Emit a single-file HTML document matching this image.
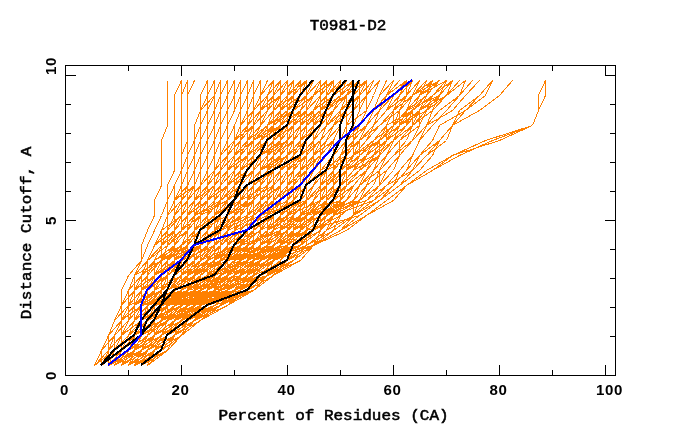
<!DOCTYPE html>
<html><head><meta charset="utf-8"><title>T0981-D2</title>
<style>
html,body{margin:0;padding:0;background:#fff;}
body{width:680px;height:440px;overflow:hidden;position:relative;font-family:"Liberation Mono",monospace;}
svg{position:absolute;left:0;top:0;}
text{font-family:"Liberation Mono",monospace;font-weight:normal;font-size:14px;fill:#000;}
text.m{stroke:#000;stroke-width:0.5px;}
text.t{font-family:"Liberation Sans",sans-serif;font-weight:bold;font-size:14.5px;letter-spacing:0.6px;}
</style></head><body>
<svg width="680" height="440" viewBox="0 0 680 440">
<rect width="680" height="440" fill="#fff"/>
<g shape-rendering="crispEdges">
<path fill="none" stroke="#ff8000" stroke-width="1" d="M101.5 365.5 L121.5 350.5 L134.5 335.5 L147.5 320.5 L154.5 305.5 L161.5 290.5 L181.5 275.5 L181.5 260.5 L187.5 245.5 L187.5 230.5 L200.5 215.5 L200.5 200.5 L207.5 185.5 L207.5 170.5 L214.5 155.5 L220.5 140.5 L227.5 125.5 L227.5 110.5 L234.5 95.5 L240.5 80.5 M101.5 365.5 L108.5 350.5 L114.5 335.5 L121.5 320.5 L128.5 305.5 L128.5 290.5 L141.5 275.5 L147.5 260.5 L161.5 245.5 L167.5 230.5 L181.5 215.5 L187.5 200.5 L194.5 185.5 L194.5 170.5 L200.5 155.5 L200.5 140.5 L207.5 125.5 L214.5 110.5 L214.5 95.5 L220.5 80.5 M128.5 365.5 L154.5 350.5 L181.5 335.5 L200.5 320.5 L227.5 305.5 L253.5 290.5 L273.5 275.5 L280.5 260.5 L287.5 245.5 L293.5 230.5 L320.5 215.5 L340.5 200.5 L346.5 185.5 L359.5 170.5 L366.5 155.5 L379.5 140.5 L393.5 125.5 L393.5 110.5 L412.5 95.5 L426.5 80.5 M121.5 365.5 L147.5 350.5 L174.5 335.5 L181.5 320.5 L187.5 305.5 L200.5 290.5 L220.5 275.5 L227.5 260.5 L240.5 245.5 L240.5 230.5 L240.5 215.5 L247.5 200.5 L253.5 185.5 L253.5 170.5 L267.5 155.5 L287.5 140.5 L300.5 125.5 L306.5 110.5 L313.5 95.5 L326.5 80.5 M147.5 365.5 L167.5 350.5 L174.5 335.5 L194.5 320.5 L220.5 305.5 L247.5 290.5 L273.5 275.5 L300.5 260.5 L313.5 245.5 L340.5 230.5 L359.5 215.5 L379.5 200.5 L393.5 185.5 L406.5 170.5 L419.5 155.5 L439.5 140.5 L452.5 125.5 L479.5 110.5 L499.5 95.5 L512.5 80.5 M108.5 365.5 L114.5 350.5 L121.5 335.5 L141.5 320.5 L147.5 305.5 L154.5 290.5 L161.5 275.5 L161.5 260.5 L200.5 245.5 L207.5 230.5 L220.5 215.5 L227.5 200.5 L234.5 185.5 L253.5 170.5 L267.5 155.5 L273.5 140.5 L273.5 125.5 L293.5 110.5 L306.5 95.5 L313.5 80.5 M108.5 365.5 L114.5 350.5 L114.5 335.5 L128.5 320.5 L141.5 305.5 L147.5 290.5 L154.5 275.5 L161.5 260.5 L167.5 245.5 L181.5 230.5 L194.5 215.5 L200.5 200.5 L207.5 185.5 L220.5 170.5 L227.5 155.5 L234.5 140.5 L240.5 125.5 L247.5 110.5 L253.5 95.5 L260.5 80.5 M134.5 365.5 L154.5 350.5 L174.5 335.5 L187.5 320.5 L200.5 305.5 L214.5 290.5 L227.5 275.5 L234.5 260.5 L240.5 245.5 L247.5 230.5 L260.5 215.5 L267.5 200.5 L267.5 185.5 L273.5 170.5 L287.5 155.5 L306.5 140.5 L313.5 125.5 L326.5 110.5 L340.5 95.5 L359.5 80.5 M134.5 365.5 L147.5 350.5 L161.5 335.5 L174.5 320.5 L194.5 305.5 L214.5 290.5 L240.5 275.5 L267.5 260.5 L280.5 245.5 L293.5 230.5 L300.5 215.5 L306.5 200.5 L320.5 185.5 L320.5 170.5 L333.5 155.5 L340.5 140.5 L346.5 125.5 L353.5 110.5 L366.5 95.5 L373.5 80.5 M114.5 365.5 L128.5 350.5 L141.5 335.5 L147.5 320.5 L161.5 305.5 L174.5 290.5 L174.5 275.5 L187.5 260.5 L200.5 245.5 L220.5 230.5 L227.5 215.5 L227.5 200.5 L234.5 185.5 L240.5 170.5 L247.5 155.5 L247.5 140.5 L253.5 125.5 L260.5 110.5 L267.5 95.5 L273.5 80.5 M128.5 365.5 L147.5 350.5 L167.5 335.5 L187.5 320.5 L200.5 305.5 L220.5 290.5 L240.5 275.5 L260.5 260.5 L280.5 245.5 L293.5 230.5 L313.5 215.5 L326.5 200.5 L333.5 185.5 L333.5 170.5 L340.5 155.5 L346.5 140.5 L353.5 125.5 L359.5 110.5 L366.5 95.5 L366.5 80.5 M128.5 365.5 L141.5 350.5 L154.5 335.5 L161.5 320.5 L181.5 305.5 L214.5 290.5 L234.5 275.5 L240.5 260.5 L253.5 245.5 L260.5 230.5 L273.5 215.5 L280.5 200.5 L293.5 185.5 L300.5 170.5 L320.5 155.5 L326.5 140.5 L333.5 125.5 L353.5 110.5 L359.5 95.5 L366.5 80.5 M114.5 365.5 L128.5 350.5 L141.5 335.5 L154.5 320.5 L167.5 305.5 L181.5 290.5 L187.5 275.5 L194.5 260.5 L207.5 245.5 L220.5 230.5 L234.5 215.5 L247.5 200.5 L253.5 185.5 L260.5 170.5 L267.5 155.5 L273.5 140.5 L280.5 125.5 L293.5 110.5 L300.5 95.5 L306.5 80.5 M114.5 365.5 L128.5 350.5 L147.5 335.5 L154.5 320.5 L181.5 305.5 L194.5 290.5 L200.5 275.5 L207.5 260.5 L214.5 245.5 L220.5 230.5 L220.5 215.5 L227.5 200.5 L234.5 185.5 L253.5 170.5 L253.5 155.5 L260.5 140.5 L267.5 125.5 L287.5 110.5 L293.5 95.5 L300.5 80.5 M128.5 365.5 L147.5 350.5 L161.5 335.5 L181.5 320.5 L194.5 305.5 L207.5 290.5 L220.5 275.5 L227.5 260.5 L227.5 245.5 L234.5 230.5 L234.5 215.5 L234.5 200.5 L234.5 185.5 L234.5 170.5 L247.5 155.5 L260.5 140.5 L280.5 125.5 L280.5 110.5 L293.5 95.5 L306.5 80.5 M147.5 365.5 L161.5 350.5 L181.5 335.5 L200.5 320.5 L220.5 305.5 L240.5 290.5 L267.5 275.5 L287.5 260.5 L306.5 245.5 L326.5 230.5 L353.5 215.5 L366.5 200.5 L379.5 185.5 L379.5 170.5 L393.5 155.5 L406.5 140.5 L412.5 125.5 L426.5 110.5 L446.5 95.5 L459.5 80.5 M114.5 365.5 L128.5 350.5 L141.5 335.5 L154.5 320.5 L167.5 305.5 L187.5 290.5 L214.5 275.5 L227.5 260.5 L227.5 245.5 L227.5 230.5 L234.5 215.5 L247.5 200.5 L247.5 185.5 L253.5 170.5 L260.5 155.5 L267.5 140.5 L273.5 125.5 L280.5 110.5 L287.5 95.5 L293.5 80.5 M108.5 365.5 L121.5 350.5 L134.5 335.5 L147.5 320.5 L147.5 305.5 L161.5 290.5 L174.5 275.5 L187.5 260.5 L200.5 245.5 L207.5 230.5 L207.5 215.5 L207.5 200.5 L207.5 185.5 L214.5 170.5 L220.5 155.5 L220.5 140.5 L227.5 125.5 L227.5 110.5 L227.5 95.5 L234.5 80.5 M114.5 365.5 L128.5 350.5 L141.5 335.5 L154.5 320.5 L174.5 305.5 L194.5 290.5 L207.5 275.5 L214.5 260.5 L214.5 245.5 L220.5 230.5 L220.5 215.5 L227.5 200.5 L227.5 185.5 L234.5 170.5 L240.5 155.5 L247.5 140.5 L253.5 125.5 L260.5 110.5 L267.5 95.5 L273.5 80.5 M94.5 365.5 L101.5 350.5 L108.5 335.5 L114.5 320.5 L121.5 305.5 L134.5 290.5 L141.5 275.5 L147.5 260.5 L154.5 245.5 L161.5 230.5 L167.5 215.5 L174.5 200.5 L194.5 185.5 L194.5 170.5 L200.5 155.5 L200.5 140.5 L207.5 125.5 L207.5 110.5 L214.5 95.5 L214.5 80.5 M114.5 365.5 L121.5 350.5 L134.5 335.5 L141.5 320.5 L154.5 305.5 L187.5 290.5 L187.5 275.5 L194.5 260.5 L200.5 245.5 L200.5 230.5 L207.5 215.5 L207.5 200.5 L207.5 185.5 L207.5 170.5 L214.5 155.5 L220.5 140.5 L220.5 125.5 L227.5 110.5 L234.5 95.5 L234.5 80.5 M121.5 365.5 L134.5 350.5 L154.5 335.5 L181.5 320.5 L200.5 305.5 L214.5 290.5 L227.5 275.5 L234.5 260.5 L240.5 245.5 L247.5 230.5 L247.5 215.5 L260.5 200.5 L267.5 185.5 L273.5 170.5 L280.5 155.5 L287.5 140.5 L293.5 125.5 L300.5 110.5 L306.5 95.5 L313.5 80.5 M128.5 365.5 L147.5 350.5 L167.5 335.5 L181.5 320.5 L200.5 305.5 L214.5 290.5 L227.5 275.5 L234.5 260.5 L240.5 245.5 L253.5 230.5 L267.5 215.5 L267.5 200.5 L273.5 185.5 L287.5 170.5 L293.5 155.5 L300.5 140.5 L306.5 125.5 L320.5 110.5 L326.5 95.5 L340.5 80.5 M121.5 365.5 L134.5 350.5 L141.5 335.5 L147.5 320.5 L154.5 305.5 L194.5 290.5 L214.5 275.5 L214.5 260.5 L220.5 245.5 L234.5 230.5 L240.5 215.5 L240.5 200.5 L253.5 185.5 L267.5 170.5 L287.5 155.5 L300.5 140.5 L306.5 125.5 L320.5 110.5 L333.5 95.5 L353.5 80.5 M101.5 365.5 L108.5 350.5 L114.5 335.5 L121.5 320.5 L134.5 305.5 L134.5 290.5 L147.5 275.5 L147.5 260.5 L167.5 245.5 L174.5 230.5 L181.5 215.5 L194.5 200.5 L207.5 185.5 L207.5 170.5 L214.5 155.5 L220.5 140.5 L227.5 125.5 L227.5 110.5 L234.5 95.5 L240.5 80.5 M128.5 365.5 L147.5 350.5 L167.5 335.5 L181.5 320.5 L194.5 305.5 L207.5 290.5 L220.5 275.5 L240.5 260.5 L260.5 245.5 L287.5 230.5 L306.5 215.5 L326.5 200.5 L340.5 185.5 L353.5 170.5 L366.5 155.5 L379.5 140.5 L386.5 125.5 L393.5 110.5 L406.5 95.5 L406.5 80.5 M114.5 365.5 L134.5 350.5 L147.5 335.5 L167.5 320.5 L194.5 305.5 L247.5 290.5 L253.5 275.5 L253.5 260.5 L267.5 245.5 L267.5 230.5 L267.5 215.5 L267.5 200.5 L267.5 185.5 L267.5 170.5 L267.5 155.5 L273.5 140.5 L273.5 125.5 L273.5 110.5 L280.5 95.5 L280.5 80.5 M101.5 365.5 L108.5 350.5 L121.5 335.5 L121.5 320.5 L121.5 305.5 L128.5 290.5 L134.5 275.5 L147.5 260.5 L154.5 245.5 L161.5 230.5 L167.5 215.5 L174.5 200.5 L187.5 185.5 L194.5 170.5 L200.5 155.5 L207.5 140.5 L214.5 125.5 L220.5 110.5 L227.5 95.5 L234.5 80.5 M108.5 365.5 L128.5 350.5 L147.5 335.5 L154.5 320.5 L174.5 305.5 L187.5 290.5 L200.5 275.5 L220.5 260.5 L240.5 245.5 L240.5 230.5 L247.5 215.5 L247.5 200.5 L247.5 185.5 L253.5 170.5 L260.5 155.5 L267.5 140.5 L280.5 125.5 L287.5 110.5 L293.5 95.5 L300.5 80.5 M101.5 365.5 L108.5 350.5 L121.5 335.5 L128.5 320.5 L134.5 305.5 L141.5 290.5 L161.5 275.5 L181.5 260.5 L194.5 245.5 L194.5 230.5 L207.5 215.5 L220.5 200.5 L227.5 185.5 L234.5 170.5 L234.5 155.5 L240.5 140.5 L240.5 125.5 L247.5 110.5 L247.5 95.5 L253.5 80.5 M121.5 365.5 L128.5 350.5 L141.5 335.5 L154.5 320.5 L154.5 305.5 L167.5 290.5 L181.5 275.5 L187.5 260.5 L187.5 245.5 L200.5 230.5 L214.5 215.5 L214.5 200.5 L227.5 185.5 L240.5 170.5 L247.5 155.5 L253.5 140.5 L260.5 125.5 L273.5 110.5 L280.5 95.5 L293.5 80.5 M134.5 365.5 L147.5 350.5 L161.5 335.5 L181.5 320.5 L200.5 305.5 L247.5 290.5 L253.5 275.5 L260.5 260.5 L267.5 245.5 L280.5 230.5 L287.5 215.5 L293.5 200.5 L306.5 185.5 L320.5 170.5 L346.5 155.5 L346.5 140.5 L366.5 125.5 L373.5 110.5 L393.5 95.5 L412.5 80.5 M114.5 365.5 L128.5 350.5 L141.5 335.5 L154.5 320.5 L181.5 305.5 L200.5 290.5 L220.5 275.5 L247.5 260.5 L260.5 245.5 L273.5 230.5 L280.5 215.5 L293.5 200.5 L300.5 185.5 L306.5 170.5 L306.5 155.5 L313.5 140.5 L320.5 125.5 L326.5 110.5 L326.5 95.5 L333.5 80.5 M114.5 365.5 L121.5 350.5 L128.5 335.5 L147.5 320.5 L167.5 305.5 L174.5 290.5 L187.5 275.5 L194.5 260.5 L194.5 245.5 L200.5 230.5 L207.5 215.5 L220.5 200.5 L227.5 185.5 L247.5 170.5 L253.5 155.5 L267.5 140.5 L273.5 125.5 L273.5 110.5 L287.5 95.5 L293.5 80.5 M114.5 365.5 L128.5 350.5 L141.5 335.5 L154.5 320.5 L167.5 305.5 L181.5 290.5 L200.5 275.5 L207.5 260.5 L214.5 245.5 L214.5 230.5 L220.5 215.5 L227.5 200.5 L234.5 185.5 L253.5 170.5 L253.5 155.5 L260.5 140.5 L280.5 125.5 L300.5 110.5 L313.5 95.5 L320.5 80.5 M121.5 365.5 L128.5 350.5 L141.5 335.5 L147.5 320.5 L154.5 305.5 L181.5 290.5 L207.5 275.5 L214.5 260.5 L227.5 245.5 L247.5 230.5 L253.5 215.5 L267.5 200.5 L273.5 185.5 L280.5 170.5 L287.5 155.5 L293.5 140.5 L300.5 125.5 L313.5 110.5 L326.5 95.5 L326.5 80.5 M128.5 365.5 L141.5 350.5 L147.5 335.5 L161.5 320.5 L181.5 305.5 L220.5 290.5 L253.5 275.5 L267.5 260.5 L280.5 245.5 L293.5 230.5 L306.5 215.5 L326.5 200.5 L333.5 185.5 L340.5 170.5 L353.5 155.5 L379.5 140.5 L393.5 125.5 L406.5 110.5 L419.5 95.5 L432.5 80.5 M134.5 365.5 L147.5 350.5 L167.5 335.5 L194.5 320.5 L214.5 305.5 L227.5 290.5 L247.5 275.5 L260.5 260.5 L280.5 245.5 L306.5 230.5 L359.5 215.5 L379.5 200.5 L399.5 185.5 L412.5 170.5 L419.5 155.5 L432.5 140.5 L439.5 125.5 L465.5 110.5 L479.5 95.5 L492.5 80.5 M101.5 365.5 L108.5 350.5 L121.5 335.5 L128.5 320.5 L134.5 305.5 L134.5 290.5 L141.5 275.5 L147.5 260.5 L167.5 245.5 L174.5 230.5 L187.5 215.5 L200.5 200.5 L214.5 185.5 L214.5 170.5 L214.5 155.5 L220.5 140.5 L220.5 125.5 L220.5 110.5 L227.5 95.5 L227.5 80.5 M121.5 365.5 L141.5 350.5 L161.5 335.5 L174.5 320.5 L194.5 305.5 L214.5 290.5 L227.5 275.5 L247.5 260.5 L280.5 245.5 L280.5 230.5 L280.5 215.5 L280.5 200.5 L280.5 185.5 L280.5 170.5 L293.5 155.5 L306.5 140.5 L320.5 125.5 L333.5 110.5 L340.5 95.5 L346.5 80.5 M128.5 365.5 L147.5 350.5 L167.5 335.5 L181.5 320.5 L200.5 305.5 L214.5 290.5 L227.5 275.5 L247.5 260.5 L260.5 245.5 L273.5 230.5 L300.5 215.5 L340.5 200.5 L340.5 185.5 L340.5 170.5 L340.5 155.5 L346.5 140.5 L353.5 125.5 L359.5 110.5 L366.5 95.5 L373.5 80.5 M108.5 365.5 L121.5 350.5 L134.5 335.5 L141.5 320.5 L154.5 305.5 L200.5 290.5 L207.5 275.5 L214.5 260.5 L220.5 245.5 L234.5 230.5 L240.5 215.5 L253.5 200.5 L267.5 185.5 L273.5 170.5 L287.5 155.5 L300.5 140.5 L300.5 125.5 L313.5 110.5 L326.5 95.5 L333.5 80.5 M121.5 365.5 L141.5 350.5 L161.5 335.5 L174.5 320.5 L194.5 305.5 L214.5 290.5 L227.5 275.5 L234.5 260.5 L247.5 245.5 L247.5 230.5 L253.5 215.5 L253.5 200.5 L260.5 185.5 L267.5 170.5 L273.5 155.5 L280.5 140.5 L287.5 125.5 L293.5 110.5 L293.5 95.5 L300.5 80.5 M108.5 365.5 L121.5 350.5 L134.5 335.5 L147.5 320.5 L167.5 305.5 L181.5 290.5 L194.5 275.5 L207.5 260.5 L207.5 245.5 L220.5 230.5 L227.5 215.5 L234.5 200.5 L240.5 185.5 L247.5 170.5 L253.5 155.5 L260.5 140.5 L267.5 125.5 L273.5 110.5 L280.5 95.5 L287.5 80.5 M128.5 365.5 L141.5 350.5 L154.5 335.5 L167.5 320.5 L187.5 305.5 L200.5 290.5 L207.5 275.5 L227.5 260.5 L227.5 245.5 L227.5 230.5 L227.5 215.5 L240.5 200.5 L253.5 185.5 L273.5 170.5 L280.5 155.5 L293.5 140.5 L300.5 125.5 L313.5 110.5 L326.5 95.5 L346.5 80.5 M108.5 365.5 L128.5 350.5 L141.5 335.5 L147.5 320.5 L161.5 305.5 L167.5 290.5 L181.5 275.5 L187.5 260.5 L200.5 245.5 L207.5 230.5 L214.5 215.5 L214.5 200.5 L214.5 185.5 L220.5 170.5 L227.5 155.5 L234.5 140.5 L240.5 125.5 L247.5 110.5 L253.5 95.5 L260.5 80.5 M101.5 365.5 L114.5 350.5 L121.5 335.5 L134.5 320.5 L141.5 305.5 L181.5 290.5 L187.5 275.5 L200.5 260.5 L220.5 245.5 L227.5 230.5 L234.5 215.5 L240.5 200.5 L240.5 185.5 L253.5 170.5 L253.5 155.5 L267.5 140.5 L273.5 125.5 L280.5 110.5 L287.5 95.5 L293.5 80.5 M101.5 365.5 L108.5 350.5 L121.5 335.5 L128.5 320.5 L141.5 305.5 L141.5 290.5 L154.5 275.5 L181.5 260.5 L214.5 245.5 L214.5 230.5 L220.5 215.5 L220.5 200.5 L227.5 185.5 L227.5 170.5 L234.5 155.5 L240.5 140.5 L240.5 125.5 L247.5 110.5 L247.5 95.5 L253.5 80.5 M134.5 365.5 L147.5 350.5 L154.5 335.5 L174.5 320.5 L200.5 305.5 L220.5 290.5 L253.5 275.5 L267.5 260.5 L280.5 245.5 L293.5 230.5 L313.5 215.5 L326.5 200.5 L346.5 185.5 L359.5 170.5 L373.5 155.5 L379.5 140.5 L399.5 125.5 L412.5 110.5 L419.5 95.5 L426.5 80.5 M128.5 365.5 L134.5 350.5 L147.5 335.5 L161.5 320.5 L174.5 305.5 L187.5 290.5 L200.5 275.5 L214.5 260.5 L227.5 245.5 L234.5 230.5 L234.5 215.5 L234.5 200.5 L240.5 185.5 L240.5 170.5 L247.5 155.5 L253.5 140.5 L260.5 125.5 L267.5 110.5 L280.5 95.5 L287.5 80.5 M108.5 365.5 L121.5 350.5 L121.5 335.5 L128.5 320.5 L134.5 305.5 L161.5 290.5 L174.5 275.5 L187.5 260.5 L194.5 245.5 L200.5 230.5 L214.5 215.5 L220.5 200.5 L227.5 185.5 L234.5 170.5 L240.5 155.5 L247.5 140.5 L247.5 125.5 L253.5 110.5 L267.5 95.5 L273.5 80.5 M108.5 365.5 L108.5 350.5 L114.5 335.5 L128.5 320.5 L141.5 305.5 L147.5 290.5 L167.5 275.5 L174.5 260.5 L187.5 245.5 L200.5 230.5 L200.5 215.5 L207.5 200.5 L214.5 185.5 L220.5 170.5 L234.5 155.5 L240.5 140.5 L247.5 125.5 L253.5 110.5 L260.5 95.5 L267.5 80.5 M128.5 365.5 L134.5 350.5 L141.5 335.5 L147.5 320.5 L154.5 305.5 L181.5 290.5 L187.5 275.5 L200.5 260.5 L200.5 245.5 L207.5 230.5 L214.5 215.5 L240.5 200.5 L253.5 185.5 L260.5 170.5 L267.5 155.5 L267.5 140.5 L273.5 125.5 L280.5 110.5 L280.5 95.5 L287.5 80.5 M114.5 365.5 L128.5 350.5 L134.5 335.5 L147.5 320.5 L161.5 305.5 L181.5 290.5 L187.5 275.5 L200.5 260.5 L214.5 245.5 L220.5 230.5 L220.5 215.5 L227.5 200.5 L227.5 185.5 L240.5 170.5 L247.5 155.5 L253.5 140.5 L260.5 125.5 L267.5 110.5 L280.5 95.5 L287.5 80.5 M128.5 365.5 L134.5 350.5 L147.5 335.5 L161.5 320.5 L207.5 305.5 L247.5 290.5 L253.5 275.5 L253.5 260.5 L260.5 245.5 L267.5 230.5 L273.5 215.5 L280.5 200.5 L280.5 185.5 L287.5 170.5 L293.5 155.5 L300.5 140.5 L306.5 125.5 L313.5 110.5 L320.5 95.5 L326.5 80.5 M128.5 365.5 L141.5 350.5 L147.5 335.5 L161.5 320.5 L174.5 305.5 L174.5 290.5 L181.5 275.5 L181.5 260.5 L200.5 245.5 L214.5 230.5 L220.5 215.5 L227.5 200.5 L234.5 185.5 L234.5 170.5 L240.5 155.5 L247.5 140.5 L253.5 125.5 L260.5 110.5 L267.5 95.5 L273.5 80.5 M108.5 365.5 L128.5 350.5 L154.5 335.5 L167.5 320.5 L181.5 305.5 L200.5 290.5 L220.5 275.5 L234.5 260.5 L247.5 245.5 L253.5 230.5 L267.5 215.5 L280.5 200.5 L287.5 185.5 L300.5 170.5 L306.5 155.5 L306.5 140.5 L320.5 125.5 L320.5 110.5 L326.5 95.5 L333.5 80.5 M134.5 365.5 L147.5 350.5 L167.5 335.5 L187.5 320.5 L207.5 305.5 L227.5 290.5 L247.5 275.5 L267.5 260.5 L287.5 245.5 L300.5 230.5 L313.5 215.5 L326.5 200.5 L340.5 185.5 L346.5 170.5 L353.5 155.5 L359.5 140.5 L366.5 125.5 L379.5 110.5 L386.5 95.5 L393.5 80.5 M101.5 365.5 L114.5 350.5 L121.5 335.5 L134.5 320.5 L141.5 305.5 L141.5 290.5 L147.5 275.5 L161.5 260.5 L181.5 245.5 L187.5 230.5 L187.5 215.5 L187.5 200.5 L187.5 185.5 L194.5 170.5 L194.5 155.5 L200.5 140.5 L200.5 125.5 L207.5 110.5 L214.5 95.5 L214.5 80.5 M114.5 365.5 L121.5 350.5 L134.5 335.5 L141.5 320.5 L147.5 305.5 L167.5 290.5 L181.5 275.5 L194.5 260.5 L207.5 245.5 L214.5 230.5 L220.5 215.5 L220.5 200.5 L227.5 185.5 L234.5 170.5 L240.5 155.5 L247.5 140.5 L260.5 125.5 L267.5 110.5 L273.5 95.5 L280.5 80.5 M134.5 365.5 L167.5 350.5 L181.5 335.5 L200.5 320.5 L220.5 305.5 L240.5 290.5 L253.5 275.5 L260.5 260.5 L273.5 245.5 L280.5 230.5 L280.5 215.5 L280.5 200.5 L280.5 185.5 L280.5 170.5 L280.5 155.5 L280.5 140.5 L280.5 125.5 L280.5 110.5 L280.5 95.5 L280.5 80.5 M147.5 365.5 L167.5 350.5 L181.5 335.5 L200.5 320.5 L220.5 305.5 L234.5 290.5 L253.5 275.5 L267.5 260.5 L306.5 245.5 L326.5 230.5 L333.5 215.5 L340.5 200.5 L340.5 185.5 L353.5 170.5 L366.5 155.5 L373.5 140.5 L386.5 125.5 L393.5 110.5 L406.5 95.5 L412.5 80.5 M101.5 365.5 L121.5 350.5 L141.5 335.5 L147.5 320.5 L154.5 305.5 L174.5 290.5 L174.5 275.5 L181.5 260.5 L187.5 245.5 L194.5 230.5 L200.5 215.5 L207.5 200.5 L214.5 185.5 L220.5 170.5 L227.5 155.5 L234.5 140.5 L234.5 125.5 L240.5 110.5 L247.5 95.5 L253.5 80.5 M94.5 365.5 L108.5 350.5 L121.5 335.5 L128.5 320.5 L134.5 305.5 L134.5 290.5 L141.5 275.5 L147.5 260.5 L161.5 245.5 L174.5 230.5 L174.5 215.5 L187.5 200.5 L194.5 185.5 L194.5 170.5 L200.5 155.5 L200.5 140.5 L200.5 125.5 L207.5 110.5 L207.5 95.5 L214.5 80.5 M94.5 365.5 L101.5 350.5 L108.5 335.5 L114.5 320.5 L121.5 305.5 L128.5 290.5 L134.5 275.5 L147.5 260.5 L161.5 245.5 L167.5 230.5 L174.5 215.5 L181.5 200.5 L187.5 185.5 L194.5 170.5 L194.5 155.5 L194.5 140.5 L200.5 125.5 L207.5 110.5 L207.5 95.5 L214.5 80.5 M141.5 365.5 L154.5 350.5 L167.5 335.5 L181.5 320.5 L207.5 305.5 L253.5 290.5 L273.5 275.5 L287.5 260.5 L300.5 245.5 L313.5 230.5 L326.5 215.5 L333.5 200.5 L333.5 185.5 L340.5 170.5 L346.5 155.5 L359.5 140.5 L366.5 125.5 L373.5 110.5 L379.5 95.5 L386.5 80.5 M108.5 365.5 L114.5 350.5 L128.5 335.5 L141.5 320.5 L147.5 305.5 L154.5 290.5 L161.5 275.5 L167.5 260.5 L187.5 245.5 L194.5 230.5 L200.5 215.5 L207.5 200.5 L214.5 185.5 L227.5 170.5 L247.5 155.5 L260.5 140.5 L267.5 125.5 L280.5 110.5 L287.5 95.5 L300.5 80.5 M128.5 365.5 L141.5 350.5 L147.5 335.5 L161.5 320.5 L174.5 305.5 L214.5 290.5 L227.5 275.5 L227.5 260.5 L240.5 245.5 L240.5 230.5 L240.5 215.5 L240.5 200.5 L240.5 185.5 L253.5 170.5 L253.5 155.5 L267.5 140.5 L287.5 125.5 L293.5 110.5 L306.5 95.5 L313.5 80.5 M121.5 365.5 L128.5 350.5 L141.5 335.5 L147.5 320.5 L161.5 305.5 L174.5 290.5 L187.5 275.5 L214.5 260.5 L234.5 245.5 L253.5 230.5 L273.5 215.5 L293.5 200.5 L306.5 185.5 L313.5 170.5 L320.5 155.5 L326.5 140.5 L333.5 125.5 L340.5 110.5 L346.5 95.5 L359.5 80.5 M114.5 365.5 L134.5 350.5 L141.5 335.5 L161.5 320.5 L174.5 305.5 L187.5 290.5 L200.5 275.5 L207.5 260.5 L214.5 245.5 L214.5 230.5 L220.5 215.5 L220.5 200.5 L220.5 185.5 L227.5 170.5 L240.5 155.5 L247.5 140.5 L253.5 125.5 L260.5 110.5 L267.5 95.5 L273.5 80.5 M121.5 365.5 L141.5 350.5 L154.5 335.5 L167.5 320.5 L181.5 305.5 L200.5 290.5 L214.5 275.5 L234.5 260.5 L253.5 245.5 L267.5 230.5 L273.5 215.5 L280.5 200.5 L293.5 185.5 L300.5 170.5 L313.5 155.5 L320.5 140.5 L326.5 125.5 L333.5 110.5 L340.5 95.5 L346.5 80.5 M108.5 365.5 L121.5 350.5 L134.5 335.5 L147.5 320.5 L167.5 305.5 L181.5 290.5 L187.5 275.5 L194.5 260.5 L194.5 245.5 L207.5 230.5 L214.5 215.5 L214.5 200.5 L227.5 185.5 L227.5 170.5 L234.5 155.5 L234.5 140.5 L240.5 125.5 L247.5 110.5 L247.5 95.5 L253.5 80.5 M101.5 365.5 L121.5 350.5 L134.5 335.5 L141.5 320.5 L147.5 305.5 L154.5 290.5 L167.5 275.5 L167.5 260.5 L174.5 245.5 L181.5 230.5 L194.5 215.5 L194.5 200.5 L194.5 185.5 L194.5 170.5 L194.5 155.5 L200.5 140.5 L207.5 125.5 L214.5 110.5 L214.5 95.5 L220.5 80.5 M108.5 365.5 L121.5 350.5 L134.5 335.5 L147.5 320.5 L154.5 305.5 L167.5 290.5 L174.5 275.5 L187.5 260.5 L194.5 245.5 L194.5 230.5 L200.5 215.5 L207.5 200.5 L214.5 185.5 L214.5 170.5 L227.5 155.5 L234.5 140.5 L247.5 125.5 L260.5 110.5 L267.5 95.5 L273.5 80.5 M94.5 365.5 L108.5 350.5 L114.5 335.5 L121.5 320.5 L128.5 305.5 L134.5 290.5 L141.5 275.5 L147.5 260.5 L161.5 245.5 L167.5 230.5 L174.5 215.5 L187.5 200.5 L200.5 185.5 L214.5 170.5 L214.5 155.5 L220.5 140.5 L220.5 125.5 L227.5 110.5 L227.5 95.5 L227.5 80.5 M134.5 365.5 L147.5 350.5 L154.5 335.5 L181.5 320.5 L187.5 305.5 L214.5 290.5 L240.5 275.5 L260.5 260.5 L273.5 245.5 L293.5 230.5 L306.5 215.5 L333.5 200.5 L353.5 185.5 L366.5 170.5 L379.5 155.5 L386.5 140.5 L406.5 125.5 L419.5 110.5 L432.5 95.5 L452.5 80.5 M108.5 365.5 L121.5 350.5 L141.5 335.5 L147.5 320.5 L181.5 305.5 L214.5 290.5 L220.5 275.5 L220.5 260.5 L220.5 245.5 L220.5 230.5 L227.5 215.5 L234.5 200.5 L247.5 185.5 L253.5 170.5 L267.5 155.5 L280.5 140.5 L293.5 125.5 L313.5 110.5 L320.5 95.5 L333.5 80.5 M108.5 365.5 L121.5 350.5 L134.5 335.5 L141.5 320.5 L147.5 305.5 L174.5 290.5 L187.5 275.5 L200.5 260.5 L207.5 245.5 L214.5 230.5 L227.5 215.5 L234.5 200.5 L240.5 185.5 L247.5 170.5 L247.5 155.5 L260.5 140.5 L273.5 125.5 L287.5 110.5 L300.5 95.5 L306.5 80.5 M108.5 365.5 L121.5 350.5 L141.5 335.5 L147.5 320.5 L161.5 305.5 L181.5 290.5 L187.5 275.5 L194.5 260.5 L207.5 245.5 L214.5 230.5 L214.5 215.5 L227.5 200.5 L234.5 185.5 L240.5 170.5 L253.5 155.5 L267.5 140.5 L287.5 125.5 L293.5 110.5 L313.5 95.5 L320.5 80.5 M114.5 365.5 L134.5 350.5 L154.5 335.5 L174.5 320.5 L194.5 305.5 L194.5 290.5 L220.5 275.5 L227.5 260.5 L234.5 245.5 L240.5 230.5 L240.5 215.5 L240.5 200.5 L240.5 185.5 L240.5 170.5 L247.5 155.5 L253.5 140.5 L253.5 125.5 L260.5 110.5 L260.5 95.5 L267.5 80.5 M108.5 365.5 L128.5 350.5 L147.5 335.5 L154.5 320.5 L154.5 305.5 L154.5 290.5 L161.5 275.5 L167.5 260.5 L187.5 245.5 L187.5 230.5 L200.5 215.5 L200.5 200.5 L207.5 185.5 L207.5 170.5 L214.5 155.5 L220.5 140.5 L227.5 125.5 L234.5 110.5 L234.5 95.5 L240.5 80.5 M128.5 365.5 L141.5 350.5 L154.5 335.5 L154.5 320.5 L174.5 305.5 L214.5 290.5 L240.5 275.5 L247.5 260.5 L260.5 245.5 L260.5 230.5 L260.5 215.5 L260.5 200.5 L260.5 185.5 L267.5 170.5 L267.5 155.5 L273.5 140.5 L280.5 125.5 L280.5 110.5 L287.5 95.5 L287.5 80.5 M121.5 365.5 L134.5 350.5 L154.5 335.5 L174.5 320.5 L187.5 305.5 L207.5 290.5 L220.5 275.5 L227.5 260.5 L234.5 245.5 L247.5 230.5 L253.5 215.5 L253.5 200.5 L260.5 185.5 L267.5 170.5 L287.5 155.5 L293.5 140.5 L293.5 125.5 L313.5 110.5 L326.5 95.5 L340.5 80.5 M121.5 365.5 L128.5 350.5 L134.5 335.5 L147.5 320.5 L147.5 305.5 L187.5 290.5 L214.5 275.5 L227.5 260.5 L240.5 245.5 L253.5 230.5 L260.5 215.5 L260.5 200.5 L273.5 185.5 L287.5 170.5 L293.5 155.5 L306.5 140.5 L313.5 125.5 L333.5 110.5 L346.5 95.5 L353.5 80.5 M141.5 365.5 L167.5 350.5 L181.5 335.5 L200.5 320.5 L220.5 305.5 L253.5 290.5 L273.5 275.5 L287.5 260.5 L306.5 245.5 L326.5 230.5 L333.5 215.5 L346.5 200.5 L353.5 185.5 L366.5 170.5 L373.5 155.5 L393.5 140.5 L399.5 125.5 L399.5 110.5 L412.5 95.5 L426.5 80.5 M101.5 365.5 L121.5 350.5 L134.5 335.5 L141.5 320.5 L147.5 305.5 L161.5 290.5 L167.5 275.5 L167.5 260.5 L174.5 245.5 L181.5 230.5 L187.5 215.5 L194.5 200.5 L200.5 185.5 L214.5 170.5 L220.5 155.5 L234.5 140.5 L240.5 125.5 L247.5 110.5 L253.5 95.5 L260.5 80.5 M134.5 365.5 L154.5 350.5 L174.5 335.5 L181.5 320.5 L194.5 305.5 L214.5 290.5 L227.5 275.5 L234.5 260.5 L267.5 245.5 L273.5 230.5 L280.5 215.5 L287.5 200.5 L287.5 185.5 L293.5 170.5 L300.5 155.5 L306.5 140.5 L313.5 125.5 L320.5 110.5 L333.5 95.5 L340.5 80.5 M114.5 365.5 L128.5 350.5 L134.5 335.5 L147.5 320.5 L147.5 305.5 L167.5 290.5 L174.5 275.5 L187.5 260.5 L200.5 245.5 L220.5 230.5 L227.5 215.5 L234.5 200.5 L240.5 185.5 L240.5 170.5 L260.5 155.5 L273.5 140.5 L287.5 125.5 L306.5 110.5 L320.5 95.5 L333.5 80.5 M101.5 365.5 L114.5 350.5 L134.5 335.5 L154.5 320.5 L167.5 305.5 L181.5 290.5 L194.5 275.5 L200.5 260.5 L214.5 245.5 L234.5 230.5 L247.5 215.5 L260.5 200.5 L260.5 185.5 L267.5 170.5 L267.5 155.5 L273.5 140.5 L273.5 125.5 L280.5 110.5 L280.5 95.5 L287.5 80.5 M134.5 365.5 L147.5 350.5 L167.5 335.5 L187.5 320.5 L200.5 305.5 L220.5 290.5 L247.5 275.5 L253.5 260.5 L280.5 245.5 L300.5 230.5 L313.5 215.5 L326.5 200.5 L340.5 185.5 L353.5 170.5 L379.5 155.5 L393.5 140.5 L399.5 125.5 L419.5 110.5 L446.5 95.5 L465.5 80.5 M94.5 365.5 L114.5 350.5 L134.5 335.5 L141.5 320.5 L141.5 305.5 L147.5 290.5 L147.5 275.5 L161.5 260.5 L181.5 245.5 L187.5 230.5 L194.5 215.5 L200.5 200.5 L207.5 185.5 L214.5 170.5 L214.5 155.5 L220.5 140.5 L220.5 125.5 L220.5 110.5 L227.5 95.5 L227.5 80.5 M134.5 365.5 L147.5 350.5 L167.5 335.5 L174.5 320.5 L194.5 305.5 L220.5 290.5 L234.5 275.5 L240.5 260.5 L240.5 245.5 L247.5 230.5 L247.5 215.5 L253.5 200.5 L260.5 185.5 L260.5 170.5 L267.5 155.5 L273.5 140.5 L280.5 125.5 L287.5 110.5 L287.5 95.5 L293.5 80.5 M147.5 365.5 L154.5 350.5 L167.5 335.5 L174.5 320.5 L181.5 305.5 L214.5 290.5 L267.5 275.5 L287.5 260.5 L300.5 245.5 L313.5 230.5 L326.5 215.5 L346.5 200.5 L359.5 185.5 L379.5 170.5 L386.5 155.5 L399.5 140.5 L412.5 125.5 L432.5 110.5 L446.5 95.5 L452.5 80.5 M128.5 365.5 L154.5 350.5 L174.5 335.5 L194.5 320.5 L200.5 305.5 L214.5 290.5 L220.5 275.5 L227.5 260.5 L234.5 245.5 L234.5 230.5 L240.5 215.5 L240.5 200.5 L247.5 185.5 L253.5 170.5 L260.5 155.5 L260.5 140.5 L267.5 125.5 L273.5 110.5 L273.5 95.5 L280.5 80.5 M114.5 365.5 L121.5 350.5 L134.5 335.5 L141.5 320.5 L141.5 305.5 L200.5 290.5 L207.5 275.5 L214.5 260.5 L220.5 245.5 L220.5 230.5 L220.5 215.5 L227.5 200.5 L234.5 185.5 L234.5 170.5 L240.5 155.5 L240.5 140.5 L247.5 125.5 L253.5 110.5 L253.5 95.5 L260.5 80.5 M114.5 365.5 L134.5 350.5 L141.5 335.5 L154.5 320.5 L181.5 305.5 L194.5 290.5 L194.5 275.5 L200.5 260.5 L207.5 245.5 L214.5 230.5 L220.5 215.5 L234.5 200.5 L240.5 185.5 L253.5 170.5 L260.5 155.5 L267.5 140.5 L267.5 125.5 L280.5 110.5 L287.5 95.5 L293.5 80.5 M121.5 365.5 L134.5 350.5 L161.5 335.5 L174.5 320.5 L194.5 305.5 L214.5 290.5 L220.5 275.5 L234.5 260.5 L240.5 245.5 L247.5 230.5 L253.5 215.5 L273.5 200.5 L287.5 185.5 L300.5 170.5 L300.5 155.5 L313.5 140.5 L320.5 125.5 L333.5 110.5 L340.5 95.5 L346.5 80.5 M114.5 365.5 L121.5 350.5 L128.5 335.5 L141.5 320.5 L147.5 305.5 L167.5 290.5 L187.5 275.5 L194.5 260.5 L200.5 245.5 L214.5 230.5 L214.5 215.5 L214.5 200.5 L220.5 185.5 L227.5 170.5 L240.5 155.5 L247.5 140.5 L253.5 125.5 L260.5 110.5 L273.5 95.5 L280.5 80.5 M114.5 365.5 L121.5 350.5 L128.5 335.5 L141.5 320.5 L147.5 305.5 L154.5 290.5 L161.5 275.5 L167.5 260.5 L174.5 245.5 L187.5 230.5 L194.5 215.5 L220.5 200.5 L234.5 185.5 L253.5 170.5 L267.5 155.5 L267.5 140.5 L273.5 125.5 L287.5 110.5 L293.5 95.5 L300.5 80.5 M121.5 365.5 L147.5 350.5 L167.5 335.5 L174.5 320.5 L181.5 305.5 L194.5 290.5 L207.5 275.5 L207.5 260.5 L214.5 245.5 L220.5 230.5 L227.5 215.5 L234.5 200.5 L234.5 185.5 L240.5 170.5 L247.5 155.5 L253.5 140.5 L267.5 125.5 L273.5 110.5 L287.5 95.5 L306.5 80.5 M121.5 365.5 L134.5 350.5 L147.5 335.5 L154.5 320.5 L161.5 305.5 L174.5 290.5 L187.5 275.5 L200.5 260.5 L234.5 245.5 L240.5 230.5 L247.5 215.5 L253.5 200.5 L253.5 185.5 L260.5 170.5 L267.5 155.5 L267.5 140.5 L273.5 125.5 L280.5 110.5 L280.5 95.5 L287.5 80.5 M108.5 365.5 L114.5 350.5 L121.5 335.5 L128.5 320.5 L134.5 305.5 L154.5 290.5 L154.5 275.5 L167.5 260.5 L187.5 245.5 L194.5 230.5 L194.5 215.5 L194.5 200.5 L207.5 185.5 L207.5 170.5 L207.5 155.5 L214.5 140.5 L214.5 125.5 L214.5 110.5 L220.5 95.5 L220.5 80.5 M101.5 365.5 L114.5 350.5 L128.5 335.5 L134.5 320.5 L147.5 305.5 L161.5 290.5 L161.5 275.5 L174.5 260.5 L181.5 245.5 L187.5 230.5 L200.5 215.5 L214.5 200.5 L220.5 185.5 L220.5 170.5 L227.5 155.5 L234.5 140.5 L240.5 125.5 L240.5 110.5 L247.5 95.5 L253.5 80.5 M114.5 365.5 L134.5 350.5 L147.5 335.5 L167.5 320.5 L187.5 305.5 L200.5 290.5 L200.5 275.5 L214.5 260.5 L214.5 245.5 L220.5 230.5 L240.5 215.5 L253.5 200.5 L267.5 185.5 L273.5 170.5 L287.5 155.5 L300.5 140.5 L320.5 125.5 L320.5 110.5 L340.5 95.5 L353.5 80.5 M128.5 365.5 L154.5 350.5 L167.5 335.5 L187.5 320.5 L214.5 305.5 L253.5 290.5 L267.5 275.5 L280.5 260.5 L287.5 245.5 L293.5 230.5 L306.5 215.5 L313.5 200.5 L326.5 185.5 L340.5 170.5 L359.5 155.5 L373.5 140.5 L393.5 125.5 L412.5 110.5 L419.5 95.5 L432.5 80.5 M121.5 365.5 L134.5 350.5 L147.5 335.5 L154.5 320.5 L174.5 305.5 L187.5 290.5 L207.5 275.5 L214.5 260.5 L220.5 245.5 L220.5 230.5 L227.5 215.5 L227.5 200.5 L227.5 185.5 L234.5 170.5 L240.5 155.5 L247.5 140.5 L260.5 125.5 L273.5 110.5 L280.5 95.5 L287.5 80.5 M114.5 365.5 L141.5 350.5 L161.5 335.5 L174.5 320.5 L194.5 305.5 L220.5 290.5 L240.5 275.5 L260.5 260.5 L280.5 245.5 L293.5 230.5 L306.5 215.5 L306.5 200.5 L313.5 185.5 L320.5 170.5 L333.5 155.5 L346.5 140.5 L346.5 125.5 L366.5 110.5 L366.5 95.5 L379.5 80.5 M134.5 365.5 L154.5 350.5 L181.5 335.5 L194.5 320.5 L220.5 305.5 L240.5 290.5 L247.5 275.5 L273.5 260.5 L287.5 245.5 L300.5 230.5 L320.5 215.5 L340.5 200.5 L346.5 185.5 L366.5 170.5 L379.5 155.5 L386.5 140.5 L406.5 125.5 L406.5 110.5 L426.5 95.5 L439.5 80.5 M128.5 365.5 L141.5 350.5 L154.5 335.5 L167.5 320.5 L207.5 305.5 L240.5 290.5 L253.5 275.5 L260.5 260.5 L267.5 245.5 L267.5 230.5 L273.5 215.5 L273.5 200.5 L280.5 185.5 L287.5 170.5 L300.5 155.5 L306.5 140.5 L313.5 125.5 L326.5 110.5 L333.5 95.5 L346.5 80.5 M101.5 365.5 L114.5 350.5 L128.5 335.5 L141.5 320.5 L154.5 305.5 L167.5 290.5 L174.5 275.5 L194.5 260.5 L200.5 245.5 L200.5 230.5 L214.5 215.5 L240.5 200.5 L240.5 185.5 L247.5 170.5 L253.5 155.5 L253.5 140.5 L260.5 125.5 L267.5 110.5 L267.5 95.5 L273.5 80.5 M101.5 365.5 L121.5 350.5 L134.5 335.5 L141.5 320.5 L147.5 305.5 L154.5 290.5 L161.5 275.5 L167.5 260.5 L181.5 245.5 L194.5 230.5 L200.5 215.5 L207.5 200.5 L207.5 185.5 L214.5 170.5 L214.5 155.5 L214.5 140.5 L220.5 125.5 L220.5 110.5 L227.5 95.5 L227.5 80.5 M128.5 365.5 L134.5 350.5 L147.5 335.5 L167.5 320.5 L194.5 305.5 L214.5 290.5 L227.5 275.5 L234.5 260.5 L234.5 245.5 L234.5 230.5 L234.5 215.5 L240.5 200.5 L253.5 185.5 L260.5 170.5 L273.5 155.5 L293.5 140.5 L306.5 125.5 L306.5 110.5 L320.5 95.5 L333.5 80.5 M114.5 365.5 L134.5 350.5 L147.5 335.5 L167.5 320.5 L181.5 305.5 L200.5 290.5 L214.5 275.5 L227.5 260.5 L234.5 245.5 L247.5 230.5 L253.5 215.5 L260.5 200.5 L273.5 185.5 L280.5 170.5 L287.5 155.5 L293.5 140.5 L300.5 125.5 L306.5 110.5 L313.5 95.5 L320.5 80.5 M128.5 365.5 L141.5 350.5 L147.5 335.5 L154.5 320.5 L174.5 305.5 L187.5 290.5 L200.5 275.5 L214.5 260.5 L227.5 245.5 L240.5 230.5 L247.5 215.5 L260.5 200.5 L280.5 185.5 L287.5 170.5 L293.5 155.5 L300.5 140.5 L306.5 125.5 L320.5 110.5 L326.5 95.5 L340.5 80.5 M101.5 365.5 L108.5 350.5 L121.5 335.5 L128.5 320.5 L141.5 305.5 L147.5 290.5 L161.5 275.5 L181.5 260.5 L194.5 245.5 L207.5 230.5 L220.5 215.5 L220.5 200.5 L227.5 185.5 L234.5 170.5 L247.5 155.5 L260.5 140.5 L280.5 125.5 L287.5 110.5 L306.5 95.5 L320.5 80.5 M114.5 365.5 L128.5 350.5 L147.5 335.5 L167.5 320.5 L181.5 305.5 L200.5 290.5 L214.5 275.5 L227.5 260.5 L240.5 245.5 L253.5 230.5 L267.5 215.5 L267.5 200.5 L267.5 185.5 L267.5 170.5 L280.5 155.5 L287.5 140.5 L300.5 125.5 L320.5 110.5 L333.5 95.5 L333.5 80.5 M114.5 365.5 L128.5 350.5 L141.5 335.5 L154.5 320.5 L181.5 305.5 L214.5 290.5 L234.5 275.5 L253.5 260.5 L273.5 245.5 L280.5 230.5 L287.5 215.5 L293.5 200.5 L300.5 185.5 L300.5 170.5 L300.5 155.5 L306.5 140.5 L313.5 125.5 L313.5 110.5 L320.5 95.5 L326.5 80.5 M141.5 365.5 L154.5 350.5 L167.5 335.5 L181.5 320.5 L200.5 305.5 L214.5 290.5 L234.5 275.5 L253.5 260.5 L267.5 245.5 L280.5 230.5 L300.5 215.5 L320.5 200.5 L333.5 185.5 L346.5 170.5 L353.5 155.5 L366.5 140.5 L373.5 125.5 L379.5 110.5 L386.5 95.5 L399.5 80.5 M141.5 365.5 L161.5 350.5 L181.5 335.5 L194.5 320.5 L227.5 305.5 L253.5 290.5 L267.5 275.5 L267.5 260.5 L280.5 245.5 L293.5 230.5 L300.5 215.5 L313.5 200.5 L326.5 185.5 L326.5 170.5 L333.5 155.5 L340.5 140.5 L346.5 125.5 L353.5 110.5 L353.5 95.5 L359.5 80.5 M134.5 365.5 L161.5 350.5 L181.5 335.5 L194.5 320.5 L214.5 305.5 L234.5 290.5 L253.5 275.5 L267.5 260.5 L273.5 245.5 L287.5 230.5 L293.5 215.5 L306.5 200.5 L320.5 185.5 L326.5 170.5 L333.5 155.5 L340.5 140.5 L346.5 125.5 L353.5 110.5 L359.5 95.5 L366.5 80.5 M108.5 365.5 L114.5 350.5 L121.5 335.5 L134.5 320.5 L141.5 305.5 L141.5 290.5 L161.5 275.5 L174.5 260.5 L181.5 245.5 L194.5 230.5 L200.5 215.5 L207.5 200.5 L214.5 185.5 L227.5 170.5 L227.5 155.5 L234.5 140.5 L240.5 125.5 L247.5 110.5 L253.5 95.5 L260.5 80.5 M114.5 365.5 L134.5 350.5 L141.5 335.5 L154.5 320.5 L161.5 305.5 L174.5 290.5 L187.5 275.5 L200.5 260.5 L214.5 245.5 L227.5 230.5 L260.5 215.5 L260.5 200.5 L267.5 185.5 L267.5 170.5 L280.5 155.5 L287.5 140.5 L300.5 125.5 L320.5 110.5 L333.5 95.5 L346.5 80.5 M94.5 365.5 L108.5 350.5 L114.5 335.5 L121.5 320.5 L128.5 305.5 L134.5 290.5 L134.5 275.5 L147.5 260.5 L161.5 245.5 L167.5 230.5 L174.5 215.5 L174.5 200.5 L181.5 185.5 L187.5 170.5 L187.5 155.5 L194.5 140.5 L194.5 125.5 L200.5 110.5 L200.5 95.5 L207.5 80.5 M121.5 365.5 L134.5 350.5 L154.5 335.5 L174.5 320.5 L181.5 305.5 L194.5 290.5 L200.5 275.5 L214.5 260.5 L234.5 245.5 L247.5 230.5 L247.5 215.5 L247.5 200.5 L253.5 185.5 L260.5 170.5 L273.5 155.5 L273.5 140.5 L287.5 125.5 L293.5 110.5 L300.5 95.5 L313.5 80.5 M128.5 365.5 L147.5 350.5 L167.5 335.5 L187.5 320.5 L207.5 305.5 L247.5 290.5 L267.5 275.5 L287.5 260.5 L300.5 245.5 L313.5 230.5 L320.5 215.5 L326.5 200.5 L333.5 185.5 L340.5 170.5 L353.5 155.5 L359.5 140.5 L373.5 125.5 L386.5 110.5 L406.5 95.5 L419.5 80.5 M108.5 365.5 L141.5 350.5 L167.5 335.5 L181.5 320.5 L194.5 305.5 L200.5 290.5 L214.5 275.5 L227.5 260.5 L247.5 245.5 L267.5 230.5 L280.5 215.5 L280.5 200.5 L287.5 185.5 L293.5 170.5 L306.5 155.5 L313.5 140.5 L320.5 125.5 L326.5 110.5 L340.5 95.5 L346.5 80.5 M128.5 365.5 L141.5 350.5 L154.5 335.5 L167.5 320.5 L181.5 305.5 L207.5 290.5 L227.5 275.5 L240.5 260.5 L273.5 245.5 L300.5 230.5 L306.5 215.5 L326.5 200.5 L346.5 185.5 L359.5 170.5 L379.5 155.5 L379.5 140.5 L399.5 125.5 L419.5 110.5 L439.5 95.5 L452.5 80.5 M134.5 365.5 L154.5 350.5 L181.5 335.5 L200.5 320.5 L220.5 305.5 L234.5 290.5 L247.5 275.5 L267.5 260.5 L280.5 245.5 L293.5 230.5 L313.5 215.5 L333.5 200.5 L346.5 185.5 L366.5 170.5 L379.5 155.5 L386.5 140.5 L406.5 125.5 L412.5 110.5 L432.5 95.5 L446.5 80.5 M128.5 365.5 L141.5 350.5 L154.5 335.5 L167.5 320.5 L181.5 305.5 L187.5 290.5 L200.5 275.5 L207.5 260.5 L214.5 245.5 L220.5 230.5 L220.5 215.5 L227.5 200.5 L247.5 185.5 L253.5 170.5 L260.5 155.5 L273.5 140.5 L287.5 125.5 L293.5 110.5 L300.5 95.5 L313.5 80.5 M108.5 365.5 L128.5 350.5 L147.5 335.5 L161.5 320.5 L174.5 305.5 L181.5 290.5 L194.5 275.5 L207.5 260.5 L240.5 245.5 L280.5 230.5 L280.5 215.5 L280.5 200.5 L280.5 185.5 L280.5 170.5 L280.5 155.5 L280.5 140.5 L280.5 125.5 L287.5 110.5 L287.5 95.5 L293.5 80.5 M108.5 365.5 L121.5 350.5 L134.5 335.5 L141.5 320.5 L154.5 305.5 L174.5 290.5 L187.5 275.5 L194.5 260.5 L207.5 245.5 L207.5 230.5 L214.5 215.5 L220.5 200.5 L220.5 185.5 L220.5 170.5 L227.5 155.5 L227.5 140.5 L227.5 125.5 L234.5 110.5 L234.5 95.5 L240.5 80.5 M128.5 365.5 L141.5 350.5 L154.5 335.5 L167.5 320.5 L187.5 305.5 L227.5 290.5 L240.5 275.5 L260.5 260.5 L260.5 245.5 L267.5 230.5 L280.5 215.5 L293.5 200.5 L306.5 185.5 L313.5 170.5 L320.5 155.5 L333.5 140.5 L340.5 125.5 L346.5 110.5 L359.5 95.5 L366.5 80.5 M134.5 365.5 L161.5 350.5 L181.5 335.5 L194.5 320.5 L214.5 305.5 L227.5 290.5 L247.5 275.5 L260.5 260.5 L280.5 245.5 L300.5 230.5 L313.5 215.5 L320.5 200.5 L333.5 185.5 L340.5 170.5 L353.5 155.5 L366.5 140.5 L373.5 125.5 L386.5 110.5 L399.5 95.5 L406.5 80.5 M114.5 365.5 L134.5 350.5 L147.5 335.5 L154.5 320.5 L154.5 305.5 L154.5 290.5 L154.5 275.5 L161.5 260.5 L161.5 245.5 L174.5 230.5 L187.5 215.5 L194.5 200.5 L214.5 185.5 L227.5 170.5 L234.5 155.5 L247.5 140.5 L253.5 125.5 L260.5 110.5 L267.5 95.5 L280.5 80.5 M108.5 365.5 L114.5 350.5 L128.5 335.5 L141.5 320.5 L154.5 305.5 L167.5 290.5 L181.5 275.5 L194.5 260.5 L194.5 245.5 L207.5 230.5 L214.5 215.5 L220.5 200.5 L220.5 185.5 L234.5 170.5 L234.5 155.5 L240.5 140.5 L247.5 125.5 L253.5 110.5 L260.5 95.5 L267.5 80.5 M141.5 365.5 L147.5 350.5 L161.5 335.5 L174.5 320.5 L194.5 305.5 L247.5 290.5 L273.5 275.5 L300.5 260.5 L313.5 245.5 L340.5 230.5 L359.5 215.5 L379.5 200.5 L399.5 185.5 L412.5 170.5 L426.5 155.5 L446.5 140.5 L452.5 125.5 L465.5 110.5 L479.5 95.5 L492.5 80.5 M128.5 365.5 L147.5 350.5 L167.5 335.5 L181.5 320.5 L214.5 305.5 L234.5 290.5 L247.5 275.5 L247.5 260.5 L253.5 245.5 L260.5 230.5 L267.5 215.5 L273.5 200.5 L273.5 185.5 L280.5 170.5 L287.5 155.5 L300.5 140.5 L306.5 125.5 L313.5 110.5 L320.5 95.5 L326.5 80.5 M134.5 365.5 L147.5 350.5 L161.5 335.5 L181.5 320.5 L194.5 305.5 L220.5 290.5 L240.5 275.5 L273.5 260.5 L273.5 245.5 L300.5 230.5 L320.5 215.5 L326.5 200.5 L333.5 185.5 L340.5 170.5 L346.5 155.5 L359.5 140.5 L366.5 125.5 L373.5 110.5 L379.5 95.5 L393.5 80.5 M101.5 365.5 L114.5 350.5 L121.5 335.5 L134.5 320.5 L141.5 305.5 L154.5 290.5 L161.5 275.5 L167.5 260.5 L181.5 245.5 L194.5 230.5 L200.5 215.5 L227.5 200.5 L234.5 185.5 L240.5 170.5 L240.5 155.5 L247.5 140.5 L253.5 125.5 L260.5 110.5 L267.5 95.5 L273.5 80.5 M147.5 365.5 L167.5 350.5 L181.5 335.5 L187.5 320.5 L207.5 305.5 L253.5 290.5 L273.5 275.5 L293.5 260.5 L306.5 245.5 L326.5 230.5 L353.5 215.5 L379.5 200.5 L399.5 185.5 L419.5 170.5 L432.5 155.5 L439.5 140.5 L452.5 125.5 L465.5 110.5 L485.5 95.5 L492.5 80.5 M141.5 365.5 L161.5 350.5 L174.5 335.5 L200.5 320.5 L227.5 305.5 L253.5 290.5 L267.5 275.5 L273.5 260.5 L280.5 245.5 L293.5 230.5 L300.5 215.5 L320.5 200.5 L320.5 185.5 L326.5 170.5 L333.5 155.5 L333.5 140.5 L340.5 125.5 L340.5 110.5 L346.5 95.5 L353.5 80.5 M108.5 365.5 L121.5 350.5 L141.5 335.5 L141.5 320.5 L167.5 305.5 L181.5 290.5 L194.5 275.5 L194.5 260.5 L200.5 245.5 L207.5 230.5 L207.5 215.5 L207.5 200.5 L214.5 185.5 L214.5 170.5 L220.5 155.5 L227.5 140.5 L227.5 125.5 L234.5 110.5 L234.5 95.5 L240.5 80.5 M114.5 365.5 L121.5 350.5 L141.5 335.5 L154.5 320.5 L167.5 305.5 L194.5 290.5 L194.5 275.5 L207.5 260.5 L234.5 245.5 L253.5 230.5 L267.5 215.5 L273.5 200.5 L287.5 185.5 L306.5 170.5 L306.5 155.5 L313.5 140.5 L326.5 125.5 L340.5 110.5 L346.5 95.5 L359.5 80.5 M101.5 365.5 L114.5 350.5 L128.5 335.5 L147.5 320.5 L154.5 305.5 L174.5 290.5 L187.5 275.5 L207.5 260.5 L214.5 245.5 L227.5 230.5 L227.5 215.5 L227.5 200.5 L234.5 185.5 L240.5 170.5 L247.5 155.5 L267.5 140.5 L273.5 125.5 L287.5 110.5 L306.5 95.5 L313.5 80.5 M101.5 365.5 L114.5 350.5 L121.5 335.5 L134.5 320.5 L141.5 305.5 L147.5 290.5 L154.5 275.5 L154.5 260.5 L161.5 245.5 L181.5 230.5 L200.5 215.5 L207.5 200.5 L227.5 185.5 L234.5 170.5 L234.5 155.5 L240.5 140.5 L240.5 125.5 L247.5 110.5 L253.5 95.5 L253.5 80.5 M101.5 365.5 L114.5 350.5 L128.5 335.5 L134.5 320.5 L147.5 305.5 L187.5 290.5 L200.5 275.5 L207.5 260.5 L214.5 245.5 L220.5 230.5 L227.5 215.5 L227.5 200.5 L227.5 185.5 L227.5 170.5 L234.5 155.5 L240.5 140.5 L247.5 125.5 L253.5 110.5 L260.5 95.5 L267.5 80.5 M121.5 365.5 L134.5 350.5 L154.5 335.5 L161.5 320.5 L181.5 305.5 L181.5 290.5 L181.5 275.5 L187.5 260.5 L207.5 245.5 L220.5 230.5 L234.5 215.5 L253.5 200.5 L260.5 185.5 L267.5 170.5 L280.5 155.5 L293.5 140.5 L306.5 125.5 L313.5 110.5 L320.5 95.5 L326.5 80.5 M121.5 365.5 L141.5 350.5 L154.5 335.5 L161.5 320.5 L167.5 305.5 L181.5 290.5 L181.5 275.5 L194.5 260.5 L200.5 245.5 L220.5 230.5 L234.5 215.5 L253.5 200.5 L260.5 185.5 L273.5 170.5 L280.5 155.5 L293.5 140.5 L300.5 125.5 L306.5 110.5 L306.5 95.5 L320.5 80.5 M101.5 365.5 L108.5 350.5 L114.5 335.5 L121.5 320.5 L134.5 305.5 L154.5 290.5 L154.5 275.5 L154.5 260.5 L161.5 245.5 L167.5 230.5 L167.5 215.5 L181.5 200.5 L187.5 185.5 L194.5 170.5 L194.5 155.5 L200.5 140.5 L207.5 125.5 L207.5 110.5 L214.5 95.5 L214.5 80.5 M134.5 365.5 L154.5 350.5 L174.5 335.5 L200.5 320.5 L227.5 305.5 L253.5 290.5 L273.5 275.5 L300.5 260.5 L313.5 245.5 L340.5 230.5 L353.5 215.5 L359.5 200.5 L379.5 185.5 L386.5 170.5 L399.5 155.5 L399.5 140.5 L419.5 125.5 L426.5 110.5 L439.5 95.5 L452.5 80.5 M101.5 365.5 L121.5 350.5 L134.5 335.5 L141.5 320.5 L147.5 305.5 L154.5 290.5 L161.5 275.5 L174.5 260.5 L181.5 245.5 L194.5 230.5 L200.5 215.5 L207.5 200.5 L220.5 185.5 L227.5 170.5 L227.5 155.5 L234.5 140.5 L240.5 125.5 L240.5 110.5 L247.5 95.5 L253.5 80.5 M108.5 365.5 L121.5 350.5 L128.5 335.5 L141.5 320.5 L147.5 305.5 L167.5 290.5 L174.5 275.5 L181.5 260.5 L194.5 245.5 L200.5 230.5 L200.5 215.5 L207.5 200.5 L220.5 185.5 L227.5 170.5 L227.5 155.5 L234.5 140.5 L240.5 125.5 L240.5 110.5 L247.5 95.5 L247.5 80.5 M101.5 365.5 L114.5 350.5 L121.5 335.5 L141.5 320.5 L147.5 305.5 L154.5 290.5 L161.5 275.5 L167.5 260.5 L181.5 245.5 L194.5 230.5 L194.5 215.5 L227.5 200.5 L240.5 185.5 L247.5 170.5 L253.5 155.5 L260.5 140.5 L267.5 125.5 L280.5 110.5 L287.5 95.5 L293.5 80.5 M101.5 365.5 L114.5 350.5 L128.5 335.5 L134.5 320.5 L141.5 305.5 L147.5 290.5 L147.5 275.5 L161.5 260.5 L174.5 245.5 L187.5 230.5 L194.5 215.5 L200.5 200.5 L207.5 185.5 L214.5 170.5 L220.5 155.5 L234.5 140.5 L240.5 125.5 L253.5 110.5 L267.5 95.5 L280.5 80.5 M121.5 365.5 L128.5 350.5 L134.5 335.5 L147.5 320.5 L154.5 305.5 L220.5 290.5 L227.5 275.5 L234.5 260.5 L247.5 245.5 L247.5 230.5 L253.5 215.5 L260.5 200.5 L267.5 185.5 L267.5 170.5 L273.5 155.5 L280.5 140.5 L287.5 125.5 L293.5 110.5 L300.5 95.5 L306.5 80.5 M108.5 365.5 L121.5 350.5 L141.5 335.5 L147.5 320.5 L154.5 305.5 L161.5 290.5 L167.5 275.5 L174.5 260.5 L200.5 245.5 L214.5 230.5 L214.5 215.5 L227.5 200.5 L227.5 185.5 L234.5 170.5 L234.5 155.5 L240.5 140.5 L247.5 125.5 L253.5 110.5 L260.5 95.5 L267.5 80.5 M108.5 365.5 L114.5 350.5 L128.5 335.5 L134.5 320.5 L141.5 305.5 L154.5 290.5 L161.5 275.5 L181.5 260.5 L194.5 245.5 L200.5 230.5 L200.5 215.5 L207.5 200.5 L214.5 185.5 L220.5 170.5 L227.5 155.5 L227.5 140.5 L234.5 125.5 L240.5 110.5 L240.5 95.5 L247.5 80.5 M128.5 365.5 L141.5 350.5 L154.5 335.5 L167.5 320.5 L187.5 305.5 L207.5 290.5 L227.5 275.5 L240.5 260.5 L260.5 245.5 L267.5 230.5 L267.5 215.5 L267.5 200.5 L267.5 185.5 L273.5 170.5 L280.5 155.5 L280.5 140.5 L287.5 125.5 L293.5 110.5 L300.5 95.5 L300.5 80.5 M101.5 365.5 L108.5 350.5 L114.5 335.5 L121.5 320.5 L128.5 305.5 L134.5 290.5 L154.5 275.5 L167.5 260.5 L181.5 245.5 L187.5 230.5 L187.5 215.5 L194.5 200.5 L200.5 185.5 L207.5 170.5 L207.5 155.5 L214.5 140.5 L214.5 125.5 L220.5 110.5 L220.5 95.5 L227.5 80.5 M108.5 365.5 L121.5 350.5 L141.5 335.5 L161.5 320.5 L167.5 305.5 L174.5 290.5 L181.5 275.5 L194.5 260.5 L214.5 245.5 L220.5 230.5 L227.5 215.5 L240.5 200.5 L247.5 185.5 L260.5 170.5 L273.5 155.5 L287.5 140.5 L300.5 125.5 L313.5 110.5 L326.5 95.5 L326.5 80.5 M121.5 365.5 L128.5 350.5 L141.5 335.5 L154.5 320.5 L174.5 305.5 L240.5 290.5 L247.5 275.5 L247.5 260.5 L253.5 245.5 L253.5 230.5 L260.5 215.5 L260.5 200.5 L267.5 185.5 L267.5 170.5 L273.5 155.5 L273.5 140.5 L273.5 125.5 L280.5 110.5 L280.5 95.5 L287.5 80.5 M108.5 365.5 L114.5 350.5 L121.5 335.5 L134.5 320.5 L141.5 305.5 L147.5 290.5 L161.5 275.5 L181.5 260.5 L214.5 245.5 L214.5 230.5 L220.5 215.5 L227.5 200.5 L227.5 185.5 L234.5 170.5 L240.5 155.5 L247.5 140.5 L260.5 125.5 L273.5 110.5 L280.5 95.5 L287.5 80.5 M134.5 365.5 L147.5 350.5 L154.5 335.5 L174.5 320.5 L181.5 305.5 L194.5 290.5 L220.5 275.5 L227.5 260.5 L247.5 245.5 L273.5 230.5 L287.5 215.5 L293.5 200.5 L300.5 185.5 L306.5 170.5 L313.5 155.5 L326.5 140.5 L333.5 125.5 L340.5 110.5 L353.5 95.5 L366.5 80.5 M141.5 365.5 L154.5 350.5 L174.5 335.5 L187.5 320.5 L220.5 305.5 L253.5 290.5 L273.5 275.5 L287.5 260.5 L300.5 245.5 L313.5 230.5 L313.5 215.5 L326.5 200.5 L333.5 185.5 L340.5 170.5 L346.5 155.5 L359.5 140.5 L366.5 125.5 L373.5 110.5 L379.5 95.5 L386.5 80.5 M108.5 365.5 L121.5 350.5 L141.5 335.5 L154.5 320.5 L161.5 305.5 L174.5 290.5 L174.5 275.5 L194.5 260.5 L207.5 245.5 L214.5 230.5 L220.5 215.5 L234.5 200.5 L240.5 185.5 L253.5 170.5 L267.5 155.5 L273.5 140.5 L293.5 125.5 L306.5 110.5 L313.5 95.5 L320.5 80.5 M134.5 365.5 L147.5 350.5 L154.5 335.5 L167.5 320.5 L181.5 305.5 L207.5 290.5 L227.5 275.5 L260.5 260.5 L293.5 245.5 L306.5 230.5 L326.5 215.5 L359.5 200.5 L373.5 185.5 L379.5 170.5 L393.5 155.5 L412.5 140.5 L419.5 125.5 L419.5 110.5 L432.5 95.5 L446.5 80.5 M128.5 365.5 L141.5 350.5 L154.5 335.5 L161.5 320.5 L174.5 305.5 L194.5 290.5 L227.5 275.5 L240.5 260.5 L247.5 245.5 L247.5 230.5 L247.5 215.5 L253.5 200.5 L253.5 185.5 L253.5 170.5 L260.5 155.5 L273.5 140.5 L280.5 125.5 L293.5 110.5 L293.5 95.5 L306.5 80.5 M101.5 365.5 L108.5 350.5 L114.5 335.5 L121.5 320.5 L134.5 305.5 L134.5 290.5 L147.5 275.5 L154.5 260.5 L161.5 245.5 L181.5 230.5 L194.5 215.5 L194.5 200.5 L207.5 185.5 L220.5 170.5 L227.5 155.5 L234.5 140.5 L253.5 125.5 L260.5 110.5 L267.5 95.5 L273.5 80.5 M108.5 365.5 L128.5 350.5 L141.5 335.5 L154.5 320.5 L161.5 305.5 L161.5 290.5 L181.5 275.5 L187.5 260.5 L207.5 245.5 L214.5 230.5 L220.5 215.5 L220.5 200.5 L227.5 185.5 L227.5 170.5 L234.5 155.5 L240.5 140.5 L247.5 125.5 L247.5 110.5 L253.5 95.5 L260.5 80.5 M101.5 365.5 L114.5 350.5 L128.5 335.5 L134.5 320.5 L147.5 305.5 L154.5 290.5 L161.5 275.5 L174.5 260.5 L181.5 245.5 L200.5 230.5 L207.5 215.5 L214.5 200.5 L220.5 185.5 L220.5 170.5 L227.5 155.5 L234.5 140.5 L240.5 125.5 L240.5 110.5 L247.5 95.5 L253.5 80.5 M108.5 365.5 L121.5 350.5 L134.5 335.5 L141.5 320.5 L147.5 305.5 L154.5 290.5 L167.5 275.5 L181.5 260.5 L194.5 245.5 L214.5 230.5 L227.5 215.5 L234.5 200.5 L234.5 185.5 L240.5 170.5 L247.5 155.5 L253.5 140.5 L260.5 125.5 L260.5 110.5 L267.5 95.5 L273.5 80.5 M121.5 365.5 L128.5 350.5 L141.5 335.5 L154.5 320.5 L167.5 305.5 L181.5 290.5 L187.5 275.5 L220.5 260.5 L240.5 245.5 L240.5 230.5 L247.5 215.5 L247.5 200.5 L247.5 185.5 L253.5 170.5 L267.5 155.5 L273.5 140.5 L287.5 125.5 L306.5 110.5 L313.5 95.5 L333.5 80.5 M128.5 365.5 L134.5 350.5 L147.5 335.5 L161.5 320.5 L174.5 305.5 L187.5 290.5 L194.5 275.5 L200.5 260.5 L207.5 245.5 L220.5 230.5 L240.5 215.5 L240.5 200.5 L240.5 185.5 L247.5 170.5 L247.5 155.5 L247.5 140.5 L253.5 125.5 L253.5 110.5 L260.5 95.5 L260.5 80.5 M121.5 365.5 L134.5 350.5 L147.5 335.5 L154.5 320.5 L161.5 305.5 L181.5 290.5 L200.5 275.5 L207.5 260.5 L214.5 245.5 L214.5 230.5 L227.5 215.5 L253.5 200.5 L260.5 185.5 L267.5 170.5 L267.5 155.5 L273.5 140.5 L273.5 125.5 L280.5 110.5 L280.5 95.5 L287.5 80.5 M128.5 365.5 L147.5 350.5 L161.5 335.5 L181.5 320.5 L207.5 305.5 L220.5 290.5 L234.5 275.5 L234.5 260.5 L240.5 245.5 L247.5 230.5 L260.5 215.5 L267.5 200.5 L280.5 185.5 L287.5 170.5 L293.5 155.5 L300.5 140.5 L313.5 125.5 L320.5 110.5 L326.5 95.5 L333.5 80.5 M134.5 365.5 L147.5 350.5 L167.5 335.5 L174.5 320.5 L200.5 305.5 L227.5 290.5 L253.5 275.5 L273.5 260.5 L293.5 245.5 L300.5 230.5 L320.5 215.5 L366.5 200.5 L386.5 185.5 L399.5 170.5 L412.5 155.5 L419.5 140.5 L432.5 125.5 L446.5 110.5 L459.5 95.5 L472.5 80.5 M121.5 365.5 L128.5 350.5 L141.5 335.5 L147.5 320.5 L154.5 305.5 L207.5 290.5 L220.5 275.5 L227.5 260.5 L234.5 245.5 L247.5 230.5 L253.5 215.5 L253.5 200.5 L253.5 185.5 L267.5 170.5 L273.5 155.5 L293.5 140.5 L293.5 125.5 L313.5 110.5 L326.5 95.5 L333.5 80.5 M101.5 365.5 L114.5 350.5 L121.5 335.5 L134.5 320.5 L141.5 305.5 L147.5 290.5 L154.5 275.5 L167.5 260.5 L174.5 245.5 L181.5 230.5 L187.5 215.5 L187.5 200.5 L194.5 185.5 L200.5 170.5 L200.5 155.5 L207.5 140.5 L214.5 125.5 L214.5 110.5 L220.5 95.5 L220.5 80.5 M108.5 365.5 L121.5 350.5 L134.5 335.5 L147.5 320.5 L154.5 305.5 L174.5 290.5 L194.5 275.5 L200.5 260.5 L207.5 245.5 L214.5 230.5 L227.5 215.5 L234.5 200.5 L234.5 185.5 L240.5 170.5 L247.5 155.5 L253.5 140.5 L267.5 125.5 L273.5 110.5 L280.5 95.5 L287.5 80.5 M108.5 365.5 L121.5 350.5 L128.5 335.5 L141.5 320.5 L141.5 305.5 L147.5 290.5 L161.5 275.5 L167.5 260.5 L174.5 245.5 L181.5 230.5 L187.5 215.5 L194.5 200.5 L194.5 185.5 L194.5 170.5 L194.5 155.5 L200.5 140.5 L207.5 125.5 L207.5 110.5 L207.5 95.5 L214.5 80.5 M141.5 365.5 L147.5 350.5 L161.5 335.5 L174.5 320.5 L181.5 305.5 L234.5 290.5 L260.5 275.5 L280.5 260.5 L293.5 245.5 L313.5 230.5 L333.5 215.5 L346.5 200.5 L359.5 185.5 L373.5 170.5 L379.5 155.5 L393.5 140.5 L399.5 125.5 L406.5 110.5 L412.5 95.5 L426.5 80.5 M108.5 365.5 L114.5 350.5 L121.5 335.5 L134.5 320.5 L141.5 305.5 L174.5 290.5 L174.5 275.5 L181.5 260.5 L181.5 245.5 L187.5 230.5 L194.5 215.5 L207.5 200.5 L214.5 185.5 L220.5 170.5 L220.5 155.5 L220.5 140.5 L227.5 125.5 L227.5 110.5 L227.5 95.5 L234.5 80.5 M134.5 365.5 L154.5 350.5 L167.5 335.5 L181.5 320.5 L194.5 305.5 L214.5 290.5 L227.5 275.5 L240.5 260.5 L253.5 245.5 L267.5 230.5 L273.5 215.5 L293.5 200.5 L293.5 185.5 L300.5 170.5 L306.5 155.5 L313.5 140.5 L320.5 125.5 L326.5 110.5 L340.5 95.5 L346.5 80.5 M108.5 365.5 L121.5 350.5 L141.5 335.5 L154.5 320.5 L161.5 305.5 L174.5 290.5 L174.5 275.5 L187.5 260.5 L200.5 245.5 L214.5 230.5 L214.5 215.5 L220.5 200.5 L220.5 185.5 L227.5 170.5 L227.5 155.5 L234.5 140.5 L240.5 125.5 L247.5 110.5 L253.5 95.5 L260.5 80.5 M134.5 365.5 L141.5 350.5 L154.5 335.5 L161.5 320.5 L174.5 305.5 L240.5 290.5 L247.5 275.5 L253.5 260.5 L267.5 245.5 L267.5 230.5 L287.5 215.5 L293.5 200.5 L306.5 185.5 L313.5 170.5 L320.5 155.5 L326.5 140.5 L333.5 125.5 L346.5 110.5 L346.5 95.5 L359.5 80.5 M121.5 365.5 L134.5 350.5 L141.5 335.5 L154.5 320.5 L161.5 305.5 L174.5 290.5 L181.5 275.5 L194.5 260.5 L194.5 245.5 L214.5 230.5 L220.5 215.5 L227.5 200.5 L234.5 185.5 L240.5 170.5 L247.5 155.5 L253.5 140.5 L267.5 125.5 L293.5 110.5 L306.5 95.5 L320.5 80.5 M101.5 365.5 L108.5 350.5 L121.5 335.5 L128.5 320.5 L134.5 305.5 L154.5 290.5 L161.5 275.5 L167.5 260.5 L181.5 245.5 L187.5 230.5 L194.5 215.5 L207.5 200.5 L207.5 185.5 L214.5 170.5 L220.5 155.5 L220.5 140.5 L227.5 125.5 L234.5 110.5 L240.5 95.5 L240.5 80.5 M114.5 365.5 L128.5 350.5 L141.5 335.5 L154.5 320.5 L167.5 305.5 L174.5 290.5 L187.5 275.5 L200.5 260.5 L207.5 245.5 L214.5 230.5 L214.5 215.5 L227.5 200.5 L234.5 185.5 L240.5 170.5 L240.5 155.5 L247.5 140.5 L253.5 125.5 L260.5 110.5 L267.5 95.5 L273.5 80.5 M134.5 365.5 L147.5 350.5 L167.5 335.5 L194.5 320.5 L227.5 305.5 L253.5 290.5 L267.5 275.5 L273.5 260.5 L287.5 245.5 L300.5 230.5 L320.5 215.5 L353.5 200.5 L366.5 185.5 L386.5 170.5 L399.5 155.5 L412.5 140.5 L426.5 125.5 L439.5 110.5 L459.5 95.5 L465.5 80.5 M141.5 365.5 L147.5 350.5 L161.5 335.5 L181.5 320.5 L194.5 305.5 L200.5 290.5 L220.5 275.5 L220.5 260.5 L247.5 245.5 L267.5 230.5 L287.5 215.5 L320.5 200.5 L340.5 185.5 L346.5 170.5 L346.5 155.5 L353.5 140.5 L359.5 125.5 L366.5 110.5 L373.5 95.5 L379.5 80.5 M114.5 365.5 L128.5 350.5 L147.5 335.5 L154.5 320.5 L161.5 305.5 L167.5 290.5 L174.5 275.5 L187.5 260.5 L194.5 245.5 L194.5 230.5 L200.5 215.5 L214.5 200.5 L227.5 185.5 L234.5 170.5 L240.5 155.5 L247.5 140.5 L260.5 125.5 L267.5 110.5 L280.5 95.5 L280.5 80.5 M128.5 365.5 L141.5 350.5 L154.5 335.5 L167.5 320.5 L194.5 305.5 L234.5 290.5 L247.5 275.5 L253.5 260.5 L260.5 245.5 L260.5 230.5 L273.5 215.5 L280.5 200.5 L293.5 185.5 L306.5 170.5 L320.5 155.5 L326.5 140.5 L333.5 125.5 L340.5 110.5 L353.5 95.5 L359.5 80.5 M128.5 365.5 L154.5 350.5 L174.5 335.5 L187.5 320.5 L200.5 305.5 L214.5 290.5 L227.5 275.5 L234.5 260.5 L287.5 245.5 L287.5 230.5 L293.5 215.5 L293.5 200.5 L293.5 185.5 L293.5 170.5 L300.5 155.5 L320.5 140.5 L333.5 125.5 L346.5 110.5 L359.5 95.5 L366.5 80.5 M128.5 365.5 L134.5 350.5 L141.5 335.5 L147.5 320.5 L154.5 305.5 L194.5 290.5 L200.5 275.5 L214.5 260.5 L227.5 245.5 L234.5 230.5 L240.5 215.5 L240.5 200.5 L247.5 185.5 L253.5 170.5 L260.5 155.5 L267.5 140.5 L273.5 125.5 L280.5 110.5 L293.5 95.5 L300.5 80.5 M108.5 365.5 L121.5 350.5 L134.5 335.5 L147.5 320.5 L161.5 305.5 L174.5 290.5 L181.5 275.5 L187.5 260.5 L187.5 245.5 L194.5 230.5 L200.5 215.5 L200.5 200.5 L214.5 185.5 L220.5 170.5 L227.5 155.5 L234.5 140.5 L247.5 125.5 L253.5 110.5 L260.5 95.5 L267.5 80.5 M121.5 365.5 L134.5 350.5 L147.5 335.5 L167.5 320.5 L187.5 305.5 L207.5 290.5 L227.5 275.5 L234.5 260.5 L260.5 245.5 L273.5 230.5 L287.5 215.5 L306.5 200.5 L320.5 185.5 L333.5 170.5 L333.5 155.5 L340.5 140.5 L346.5 125.5 L353.5 110.5 L359.5 95.5 L359.5 80.5 M128.5 365.5 L141.5 350.5 L147.5 335.5 L161.5 320.5 L187.5 305.5 L227.5 290.5 L247.5 275.5 L253.5 260.5 L267.5 245.5 L287.5 230.5 L293.5 215.5 L293.5 200.5 L300.5 185.5 L313.5 170.5 L320.5 155.5 L333.5 140.5 L340.5 125.5 L346.5 110.5 L353.5 95.5 L359.5 80.5 M94.5 365.5 L108.5 350.5 L108.5 335.5 L114.5 320.5 L128.5 305.5 L134.5 290.5 L141.5 275.5 L147.5 260.5 L154.5 245.5 L161.5 230.5 L167.5 215.5 L174.5 200.5 L181.5 185.5 L181.5 170.5 L187.5 155.5 L194.5 140.5 L200.5 125.5 L200.5 110.5 L207.5 95.5 L214.5 80.5 M121.5 365.5 L128.5 350.5 L141.5 335.5 L147.5 320.5 L167.5 305.5 L187.5 290.5 L214.5 275.5 L220.5 260.5 L240.5 245.5 L247.5 230.5 L260.5 215.5 L273.5 200.5 L287.5 185.5 L306.5 170.5 L313.5 155.5 L333.5 140.5 L340.5 125.5 L340.5 110.5 L359.5 95.5 L373.5 80.5 M128.5 365.5 L141.5 350.5 L147.5 335.5 L161.5 320.5 L181.5 305.5 L207.5 290.5 L234.5 275.5 L253.5 260.5 L260.5 245.5 L273.5 230.5 L273.5 215.5 L280.5 200.5 L287.5 185.5 L287.5 170.5 L306.5 155.5 L313.5 140.5 L326.5 125.5 L326.5 110.5 L346.5 95.5 L359.5 80.5 M128.5 365.5 L134.5 350.5 L141.5 335.5 L154.5 320.5 L161.5 305.5 L214.5 290.5 L240.5 275.5 L247.5 260.5 L260.5 245.5 L280.5 230.5 L287.5 215.5 L320.5 200.5 L326.5 185.5 L333.5 170.5 L340.5 155.5 L346.5 140.5 L359.5 125.5 L366.5 110.5 L373.5 95.5 L379.5 80.5 M114.5 365.5 L134.5 350.5 L141.5 335.5 L154.5 320.5 L167.5 305.5 L187.5 290.5 L200.5 275.5 L214.5 260.5 L220.5 245.5 L227.5 230.5 L240.5 215.5 L247.5 200.5 L247.5 185.5 L260.5 170.5 L267.5 155.5 L280.5 140.5 L287.5 125.5 L306.5 110.5 L313.5 95.5 L320.5 80.5 M108.5 365.5 L128.5 350.5 L147.5 335.5 L154.5 320.5 L161.5 305.5 L181.5 290.5 L187.5 275.5 L194.5 260.5 L200.5 245.5 L207.5 230.5 L214.5 215.5 L234.5 200.5 L247.5 185.5 L260.5 170.5 L287.5 155.5 L293.5 140.5 L306.5 125.5 L320.5 110.5 L326.5 95.5 L346.5 80.5 M101.5 365.5 L108.5 350.5 L121.5 335.5 L128.5 320.5 L134.5 305.5 L141.5 290.5 L167.5 275.5 L174.5 260.5 L174.5 245.5 L181.5 230.5 L187.5 215.5 L194.5 200.5 L200.5 185.5 L200.5 170.5 L207.5 155.5 L214.5 140.5 L214.5 125.5 L220.5 110.5 L227.5 95.5 L234.5 80.5 M101.5 365.5 L114.5 350.5 L121.5 335.5 L128.5 320.5 L134.5 305.5 L141.5 290.5 L154.5 275.5 L161.5 260.5 L167.5 245.5 L181.5 230.5 L187.5 215.5 L200.5 200.5 L207.5 185.5 L214.5 170.5 L214.5 155.5 L220.5 140.5 L220.5 125.5 L227.5 110.5 L234.5 95.5 L234.5 80.5 M114.5 365.5 L128.5 350.5 L134.5 335.5 L161.5 320.5 L194.5 305.5 L214.5 290.5 L214.5 275.5 L214.5 260.5 L220.5 245.5 L220.5 230.5 L227.5 215.5 L227.5 200.5 L234.5 185.5 L234.5 170.5 L247.5 155.5 L253.5 140.5 L260.5 125.5 L273.5 110.5 L280.5 95.5 L293.5 80.5 M114.5 365.5 L121.5 350.5 L134.5 335.5 L141.5 320.5 L154.5 305.5 L167.5 290.5 L194.5 275.5 L227.5 260.5 L240.5 245.5 L260.5 230.5 L260.5 215.5 L260.5 200.5 L273.5 185.5 L287.5 170.5 L300.5 155.5 L306.5 140.5 L313.5 125.5 L313.5 110.5 L333.5 95.5 L346.5 80.5 M114.5 365.5 L134.5 350.5 L141.5 335.5 L147.5 320.5 L161.5 305.5 L167.5 290.5 L194.5 275.5 L207.5 260.5 L220.5 245.5 L220.5 230.5 L227.5 215.5 L227.5 200.5 L227.5 185.5 L240.5 170.5 L253.5 155.5 L260.5 140.5 L273.5 125.5 L280.5 110.5 L293.5 95.5 L306.5 80.5 M108.5 365.5 L121.5 350.5 L134.5 335.5 L147.5 320.5 L181.5 305.5 L214.5 290.5 L220.5 275.5 L227.5 260.5 L227.5 245.5 L227.5 230.5 L234.5 215.5 L240.5 200.5 L240.5 185.5 L247.5 170.5 L260.5 155.5 L267.5 140.5 L280.5 125.5 L293.5 110.5 L293.5 95.5 L306.5 80.5 M128.5 365.5 L154.5 350.5 L181.5 335.5 L187.5 320.5 L207.5 305.5 L227.5 290.5 L227.5 275.5 L227.5 260.5 L287.5 245.5 L293.5 230.5 L300.5 215.5 L300.5 200.5 L306.5 185.5 L306.5 170.5 L306.5 155.5 L313.5 140.5 L313.5 125.5 L320.5 110.5 L320.5 95.5 L320.5 80.5 M108.5 365.5 L121.5 350.5 L141.5 335.5 L147.5 320.5 L154.5 305.5 L154.5 290.5 L161.5 275.5 L174.5 260.5 L187.5 245.5 L200.5 230.5 L200.5 215.5 L200.5 200.5 L207.5 185.5 L207.5 170.5 L207.5 155.5 L214.5 140.5 L220.5 125.5 L227.5 110.5 L234.5 95.5 L240.5 80.5 M108.5 365.5 L114.5 350.5 L121.5 335.5 L134.5 320.5 L154.5 305.5 L181.5 290.5 L194.5 275.5 L194.5 260.5 L207.5 245.5 L214.5 230.5 L220.5 215.5 L227.5 200.5 L234.5 185.5 L240.5 170.5 L247.5 155.5 L260.5 140.5 L267.5 125.5 L273.5 110.5 L280.5 95.5 L287.5 80.5 M128.5 365.5 L141.5 350.5 L154.5 335.5 L167.5 320.5 L200.5 305.5 L234.5 290.5 L247.5 275.5 L247.5 260.5 L253.5 245.5 L260.5 230.5 L267.5 215.5 L267.5 200.5 L267.5 185.5 L267.5 170.5 L273.5 155.5 L273.5 140.5 L273.5 125.5 L273.5 110.5 L273.5 95.5 L273.5 80.5 M141.5 365.5 L161.5 350.5 L181.5 335.5 L200.5 320.5 L227.5 305.5 L240.5 290.5 L253.5 275.5 L287.5 260.5 L300.5 245.5 L306.5 230.5 L313.5 215.5 L320.5 200.5 L320.5 185.5 L326.5 170.5 L353.5 155.5 L359.5 140.5 L379.5 125.5 L399.5 110.5 L412.5 95.5 L439.5 80.5 M108.5 365.5 L114.5 350.5 L121.5 335.5 L128.5 320.5 L134.5 305.5 L141.5 290.5 L147.5 275.5 L161.5 260.5 L174.5 245.5 L181.5 230.5 L200.5 215.5 L207.5 200.5 L214.5 185.5 L220.5 170.5 L227.5 155.5 L227.5 140.5 L234.5 125.5 L240.5 110.5 L240.5 95.5 L247.5 80.5 M141.5 365.5 L154.5 350.5 L167.5 335.5 L174.5 320.5 L187.5 305.5 L200.5 290.5 L214.5 275.5 L234.5 260.5 L247.5 245.5 L280.5 230.5 L306.5 215.5 L333.5 200.5 L353.5 185.5 L366.5 170.5 L379.5 155.5 L386.5 140.5 L393.5 125.5 L412.5 110.5 L419.5 95.5 L432.5 80.5 M108.5 365.5 L121.5 350.5 L128.5 335.5 L134.5 320.5 L147.5 305.5 L161.5 290.5 L167.5 275.5 L181.5 260.5 L194.5 245.5 L200.5 230.5 L214.5 215.5 L220.5 200.5 L220.5 185.5 L220.5 170.5 L234.5 155.5 L247.5 140.5 L253.5 125.5 L267.5 110.5 L273.5 95.5 L280.5 80.5 M108.5 365.5 L121.5 350.5 L128.5 335.5 L141.5 320.5 L147.5 305.5 L194.5 290.5 L194.5 275.5 L200.5 260.5 L200.5 245.5 L207.5 230.5 L207.5 215.5 L207.5 200.5 L214.5 185.5 L227.5 170.5 L234.5 155.5 L240.5 140.5 L247.5 125.5 L253.5 110.5 L267.5 95.5 L273.5 80.5 M147.5 365.5 L161.5 350.5 L181.5 335.5 L200.5 320.5 L227.5 305.5 L240.5 290.5 L260.5 275.5 L273.5 260.5 L313.5 245.5 L333.5 230.5 L340.5 215.5 L340.5 200.5 L340.5 185.5 L340.5 170.5 L353.5 155.5 L359.5 140.5 L373.5 125.5 L386.5 110.5 L393.5 95.5 L412.5 80.5 M134.5 365.5 L147.5 350.5 L154.5 335.5 L167.5 320.5 L181.5 305.5 L194.5 290.5 L214.5 275.5 L247.5 260.5 L267.5 245.5 L280.5 230.5 L300.5 215.5 L306.5 200.5 L320.5 185.5 L326.5 170.5 L333.5 155.5 L340.5 140.5 L340.5 125.5 L346.5 110.5 L346.5 95.5 L353.5 80.5 M94.5 365.5 L101.5 350.5 L114.5 335.5 L128.5 320.5 L141.5 305.5 L147.5 290.5 L167.5 275.5 L167.5 260.5 L181.5 245.5 L187.5 230.5 L200.5 215.5 L207.5 200.5 L214.5 185.5 L214.5 170.5 L220.5 155.5 L220.5 140.5 L227.5 125.5 L227.5 110.5 L234.5 95.5 L240.5 80.5 M141.5 365.5 L161.5 350.5 L174.5 335.5 L187.5 320.5 L220.5 305.5 L234.5 290.5 L267.5 275.5 L300.5 260.5 L313.5 245.5 L340.5 230.5 L353.5 215.5 L353.5 200.5 L359.5 185.5 L366.5 170.5 L373.5 155.5 L386.5 140.5 L399.5 125.5 L426.5 110.5 L432.5 95.5 L446.5 80.5 M121.5 365.5 L147.5 350.5 L167.5 335.5 L181.5 320.5 L194.5 305.5 L200.5 290.5 L207.5 275.5 L247.5 260.5 L273.5 245.5 L280.5 230.5 L280.5 215.5 L287.5 200.5 L293.5 185.5 L300.5 170.5 L313.5 155.5 L326.5 140.5 L333.5 125.5 L340.5 110.5 L353.5 95.5 L359.5 80.5 M108.5 365.5 L121.5 350.5 L134.5 335.5 L141.5 320.5 L154.5 305.5 L167.5 290.5 L167.5 275.5 L181.5 260.5 L187.5 245.5 L200.5 230.5 L207.5 215.5 L207.5 200.5 L214.5 185.5 L214.5 170.5 L214.5 155.5 L220.5 140.5 L227.5 125.5 L234.5 110.5 L234.5 95.5 L240.5 80.5 M108.5 365.5 L121.5 350.5 L134.5 335.5 L141.5 320.5 L154.5 305.5 L161.5 290.5 L174.5 275.5 L181.5 260.5 L194.5 245.5 L194.5 230.5 L207.5 215.5 L220.5 200.5 L234.5 185.5 L240.5 170.5 L247.5 155.5 L247.5 140.5 L260.5 125.5 L267.5 110.5 L273.5 95.5 L280.5 80.5 M141.5 365.5 L147.5 350.5 L161.5 335.5 L174.5 320.5 L207.5 305.5 L253.5 290.5 L273.5 275.5 L287.5 260.5 L300.5 245.5 L313.5 230.5 L320.5 215.5 L326.5 200.5 L333.5 185.5 L340.5 170.5 L353.5 155.5 L366.5 140.5 L379.5 125.5 L399.5 110.5 L406.5 95.5 L419.5 80.5 M147.5 365.5 L154.5 350.5 L161.5 335.5 L174.5 320.5 L181.5 305.5 L207.5 290.5 L234.5 275.5 L253.5 260.5 L300.5 245.5 L313.5 230.5 L326.5 215.5 L340.5 200.5 L346.5 185.5 L346.5 170.5 L353.5 155.5 L353.5 140.5 L359.5 125.5 L366.5 110.5 L366.5 95.5 L373.5 80.5 M121.5 365.5 L134.5 350.5 L141.5 335.5 L154.5 320.5 L161.5 305.5 L181.5 290.5 L187.5 275.5 L200.5 260.5 L207.5 245.5 L214.5 230.5 L227.5 215.5 L227.5 200.5 L234.5 185.5 L240.5 170.5 L247.5 155.5 L260.5 140.5 L267.5 125.5 L273.5 110.5 L280.5 95.5 L293.5 80.5 M141.5 365.5 L154.5 350.5 L167.5 335.5 L181.5 320.5 L207.5 305.5 L214.5 290.5 L240.5 275.5 L260.5 260.5 L273.5 245.5 L293.5 230.5 L306.5 215.5 L313.5 200.5 L320.5 185.5 L333.5 170.5 L340.5 155.5 L359.5 140.5 L366.5 125.5 L373.5 110.5 L386.5 95.5 L406.5 80.5 M108.5 365.5 L114.5 350.5 L128.5 335.5 L134.5 320.5 L147.5 305.5 L161.5 290.5 L174.5 275.5 L187.5 260.5 L187.5 245.5 L187.5 230.5 L200.5 215.5 L200.5 200.5 L207.5 185.5 L214.5 170.5 L214.5 155.5 L214.5 140.5 L220.5 125.5 L220.5 110.5 L227.5 95.5 L234.5 80.5 M134.5 365.5 L154.5 350.5 L174.5 335.5 L200.5 320.5 L220.5 305.5 L247.5 290.5 L260.5 275.5 L273.5 260.5 L287.5 245.5 L293.5 230.5 L313.5 215.5 L346.5 200.5 L359.5 185.5 L366.5 170.5 L379.5 155.5 L393.5 140.5 L412.5 125.5 L412.5 110.5 L419.5 95.5 L432.5 80.5 M141.5 365.5 L161.5 350.5 L181.5 335.5 L200.5 320.5 L227.5 305.5 L247.5 290.5 L267.5 275.5 L287.5 260.5 L300.5 245.5 L320.5 230.5 L333.5 215.5 L359.5 200.5 L373.5 185.5 L379.5 170.5 L386.5 155.5 L399.5 140.5 L412.5 125.5 L419.5 110.5 L426.5 95.5 L432.5 80.5 M101.5 365.5 L108.5 350.5 L121.5 335.5 L134.5 320.5 L134.5 305.5 L134.5 290.5 L141.5 275.5 L147.5 260.5 L161.5 245.5 L174.5 230.5 L174.5 215.5 L181.5 200.5 L194.5 185.5 L194.5 170.5 L200.5 155.5 L207.5 140.5 L214.5 125.5 L220.5 110.5 L227.5 95.5 L234.5 80.5 M141.5 365.5 L154.5 350.5 L167.5 335.5 L181.5 320.5 L187.5 305.5 L220.5 290.5 L240.5 275.5 L267.5 260.5 L293.5 245.5 L313.5 230.5 L326.5 215.5 L326.5 200.5 L340.5 185.5 L340.5 170.5 L340.5 155.5 L346.5 140.5 L346.5 125.5 L353.5 110.5 L353.5 95.5 L359.5 80.5 M121.5 365.5 L141.5 350.5 L161.5 335.5 L167.5 320.5 L174.5 305.5 L181.5 290.5 L194.5 275.5 L200.5 260.5 L214.5 245.5 L220.5 230.5 L220.5 215.5 L234.5 200.5 L240.5 185.5 L240.5 170.5 L247.5 155.5 L247.5 140.5 L253.5 125.5 L253.5 110.5 L260.5 95.5 L267.5 80.5 M101.5 365.5 L114.5 350.5 L128.5 335.5 L141.5 320.5 L147.5 305.5 L167.5 290.5 L174.5 275.5 L181.5 260.5 L187.5 245.5 L194.5 230.5 L200.5 215.5 L207.5 200.5 L207.5 185.5 L214.5 170.5 L220.5 155.5 L220.5 140.5 L227.5 125.5 L234.5 110.5 L234.5 95.5 L240.5 80.5 M121.5 365.5 L134.5 350.5 L141.5 335.5 L161.5 320.5 L181.5 305.5 L207.5 290.5 L220.5 275.5 L240.5 260.5 L273.5 245.5 L293.5 230.5 L320.5 215.5 L346.5 200.5 L353.5 185.5 L366.5 170.5 L379.5 155.5 L393.5 140.5 L406.5 125.5 L412.5 110.5 L426.5 95.5 L432.5 80.5 M94.5 365.5 L101.5 350.5 L108.5 335.5 L114.5 320.5 L121.5 305.5 L134.5 290.5 L141.5 275.5 L154.5 260.5 L174.5 245.5 L174.5 230.5 L174.5 215.5 L174.5 200.5 L181.5 185.5 L181.5 170.5 L187.5 155.5 L194.5 140.5 L194.5 125.5 L200.5 110.5 L200.5 95.5 L207.5 80.5 M128.5 365.5 L147.5 350.5 L174.5 335.5 L187.5 320.5 L194.5 305.5 L207.5 290.5 L227.5 275.5 L240.5 260.5 L253.5 245.5 L267.5 230.5 L273.5 215.5 L293.5 200.5 L300.5 185.5 L306.5 170.5 L313.5 155.5 L313.5 140.5 L320.5 125.5 L326.5 110.5 L333.5 95.5 L340.5 80.5 M101.5 365.5 L114.5 350.5 L121.5 335.5 L134.5 320.5 L141.5 305.5 L141.5 290.5 L154.5 275.5 L154.5 260.5 L161.5 245.5 L174.5 230.5 L187.5 215.5 L207.5 200.5 L214.5 185.5 L214.5 170.5 L214.5 155.5 L214.5 140.5 L220.5 125.5 L220.5 110.5 L227.5 95.5 L227.5 80.5 M108.5 365.5 L121.5 350.5 L134.5 335.5 L147.5 320.5 L167.5 305.5 L194.5 290.5 L207.5 275.5 L220.5 260.5 L240.5 245.5 L247.5 230.5 L260.5 215.5 L267.5 200.5 L273.5 185.5 L273.5 170.5 L280.5 155.5 L280.5 140.5 L287.5 125.5 L287.5 110.5 L293.5 95.5 L293.5 80.5 M121.5 365.5 L147.5 350.5 L161.5 335.5 L181.5 320.5 L187.5 305.5 L200.5 290.5 L207.5 275.5 L207.5 260.5 L214.5 245.5 L214.5 230.5 L247.5 215.5 L267.5 200.5 L267.5 185.5 L273.5 170.5 L280.5 155.5 L287.5 140.5 L293.5 125.5 L300.5 110.5 L306.5 95.5 L320.5 80.5 M128.5 365.5 L141.5 350.5 L154.5 335.5 L174.5 320.5 L194.5 305.5 L207.5 290.5 L220.5 275.5 L227.5 260.5 L234.5 245.5 L247.5 230.5 L253.5 215.5 L260.5 200.5 L260.5 185.5 L267.5 170.5 L280.5 155.5 L287.5 140.5 L293.5 125.5 L300.5 110.5 L313.5 95.5 L320.5 80.5 M121.5 365.5 L134.5 350.5 L147.5 335.5 L167.5 320.5 L181.5 305.5 L194.5 290.5 L214.5 275.5 L214.5 260.5 L227.5 245.5 L227.5 230.5 L234.5 215.5 L234.5 200.5 L240.5 185.5 L240.5 170.5 L247.5 155.5 L253.5 140.5 L260.5 125.5 L267.5 110.5 L273.5 95.5 L280.5 80.5 M128.5 365.5 L147.5 350.5 L161.5 335.5 L174.5 320.5 L181.5 305.5 L200.5 290.5 L220.5 275.5 L253.5 260.5 L253.5 245.5 L267.5 230.5 L293.5 215.5 L306.5 200.5 L326.5 185.5 L340.5 170.5 L353.5 155.5 L359.5 140.5 L366.5 125.5 L373.5 110.5 L386.5 95.5 L399.5 80.5 M114.5 365.5 L128.5 350.5 L134.5 335.5 L141.5 320.5 L154.5 305.5 L161.5 290.5 L167.5 275.5 L181.5 260.5 L187.5 245.5 L200.5 230.5 L214.5 215.5 L227.5 200.5 L227.5 185.5 L234.5 170.5 L234.5 155.5 L240.5 140.5 L240.5 125.5 L247.5 110.5 L247.5 95.5 L253.5 80.5 M94.5 365.5 L108.5 350.5 L121.5 335.5 L128.5 320.5 L134.5 305.5 L134.5 290.5 L147.5 275.5 L161.5 260.5 L181.5 245.5 L187.5 230.5 L194.5 215.5 L200.5 200.5 L200.5 185.5 L207.5 170.5 L207.5 155.5 L214.5 140.5 L214.5 125.5 L214.5 110.5 L220.5 95.5 L220.5 80.5 M108.5 365.5 L141.5 350.5 L161.5 335.5 L167.5 320.5 L181.5 305.5 L187.5 290.5 L194.5 275.5 L200.5 260.5 L214.5 245.5 L227.5 230.5 L227.5 215.5 L227.5 200.5 L227.5 185.5 L234.5 170.5 L240.5 155.5 L253.5 140.5 L260.5 125.5 L273.5 110.5 L287.5 95.5 L306.5 80.5 M101.5 365.5 L108.5 350.5 L121.5 335.5 L128.5 320.5 L134.5 305.5 L141.5 290.5 L147.5 275.5 L161.5 260.5 L167.5 245.5 L167.5 230.5 L181.5 215.5 L194.5 200.5 L194.5 185.5 L200.5 170.5 L200.5 155.5 L207.5 140.5 L207.5 125.5 L207.5 110.5 L214.5 95.5 L214.5 80.5 M108.5 365.5 L121.5 350.5 L128.5 335.5 L141.5 320.5 L141.5 305.5 L154.5 290.5 L167.5 275.5 L181.5 260.5 L194.5 245.5 L207.5 230.5 L220.5 215.5 L234.5 200.5 L240.5 185.5 L253.5 170.5 L253.5 155.5 L260.5 140.5 L267.5 125.5 L280.5 110.5 L287.5 95.5 L293.5 80.5 M108.5 365.5 L121.5 350.5 L141.5 335.5 L147.5 320.5 L154.5 305.5 L167.5 290.5 L174.5 275.5 L174.5 260.5 L174.5 245.5 L181.5 230.5 L187.5 215.5 L200.5 200.5 L207.5 185.5 L214.5 170.5 L214.5 155.5 L220.5 140.5 L220.5 125.5 L227.5 110.5 L227.5 95.5 L227.5 80.5 M134.5 365.5 L147.5 350.5 L154.5 335.5 L167.5 320.5 L174.5 305.5 L253.5 290.5 L267.5 275.5 L287.5 260.5 L293.5 245.5 L293.5 230.5 L313.5 215.5 L326.5 200.5 L340.5 185.5 L359.5 170.5 L373.5 155.5 L393.5 140.5 L399.5 125.5 L406.5 110.5 L419.5 95.5 L439.5 80.5 M114.5 365.5 L128.5 350.5 L147.5 335.5 L161.5 320.5 L167.5 305.5 L181.5 290.5 L194.5 275.5 L194.5 260.5 L200.5 245.5 L207.5 230.5 L220.5 215.5 L227.5 200.5 L240.5 185.5 L247.5 170.5 L260.5 155.5 L280.5 140.5 L293.5 125.5 L300.5 110.5 L306.5 95.5 L320.5 80.5 M121.5 365.5 L134.5 350.5 L147.5 335.5 L161.5 320.5 L167.5 305.5 L227.5 290.5 L234.5 275.5 L247.5 260.5 L260.5 245.5 L267.5 230.5 L267.5 215.5 L267.5 200.5 L273.5 185.5 L280.5 170.5 L287.5 155.5 L287.5 140.5 L293.5 125.5 L293.5 110.5 L300.5 95.5 L306.5 80.5 M134.5 365.5 L154.5 350.5 L174.5 335.5 L187.5 320.5 L207.5 305.5 L234.5 290.5 L247.5 275.5 L260.5 260.5 L273.5 245.5 L293.5 230.5 L313.5 215.5 L320.5 200.5 L320.5 185.5 L333.5 170.5 L346.5 155.5 L359.5 140.5 L379.5 125.5 L393.5 110.5 L406.5 95.5 L419.5 80.5 M114.5 365.5 L121.5 350.5 L141.5 335.5 L154.5 320.5 L167.5 305.5 L187.5 290.5 L214.5 275.5 L220.5 260.5 L234.5 245.5 L253.5 230.5 L273.5 215.5 L280.5 200.5 L280.5 185.5 L287.5 170.5 L293.5 155.5 L300.5 140.5 L306.5 125.5 L313.5 110.5 L320.5 95.5 L326.5 80.5 M108.5 365.5 L121.5 350.5 L128.5 335.5 L134.5 320.5 L141.5 305.5 L147.5 290.5 L154.5 275.5 L167.5 260.5 L181.5 245.5 L194.5 230.5 L200.5 215.5 L207.5 200.5 L214.5 185.5 L220.5 170.5 L227.5 155.5 L234.5 140.5 L240.5 125.5 L240.5 110.5 L247.5 95.5 L253.5 80.5 M114.5 365.5 L134.5 350.5 L161.5 335.5 L181.5 320.5 L200.5 305.5 L214.5 290.5 L227.5 275.5 L234.5 260.5 L240.5 245.5 L247.5 230.5 L260.5 215.5 L273.5 200.5 L293.5 185.5 L300.5 170.5 L300.5 155.5 L306.5 140.5 L306.5 125.5 L313.5 110.5 L320.5 95.5 L320.5 80.5 M121.5 365.5 L141.5 350.5 L154.5 335.5 L174.5 320.5 L187.5 305.5 L200.5 290.5 L220.5 275.5 L240.5 260.5 L253.5 245.5 L260.5 230.5 L267.5 215.5 L267.5 200.5 L267.5 185.5 L273.5 170.5 L287.5 155.5 L293.5 140.5 L306.5 125.5 L326.5 110.5 L333.5 95.5 L353.5 80.5 M141.5 365.5 L147.5 350.5 L161.5 335.5 L174.5 320.5 L194.5 305.5 L220.5 290.5 L253.5 275.5 L273.5 260.5 L293.5 245.5 L306.5 230.5 L306.5 215.5 L313.5 200.5 L320.5 185.5 L326.5 170.5 L333.5 155.5 L340.5 140.5 L340.5 125.5 L346.5 110.5 L353.5 95.5 L359.5 80.5 M141.5 365.5 L161.5 350.5 L181.5 335.5 L200.5 320.5 L220.5 305.5 L227.5 290.5 L240.5 275.5 L253.5 260.5 L267.5 245.5 L280.5 230.5 L287.5 215.5 L293.5 200.5 L300.5 185.5 L306.5 170.5 L313.5 155.5 L320.5 140.5 L326.5 125.5 L326.5 110.5 L333.5 95.5 L340.5 80.5 M114.5 365.5 L134.5 350.5 L147.5 335.5 L167.5 320.5 L181.5 305.5 L200.5 290.5 L214.5 275.5 L214.5 260.5 L220.5 245.5 L220.5 230.5 L253.5 215.5 L273.5 200.5 L280.5 185.5 L287.5 170.5 L293.5 155.5 L300.5 140.5 L313.5 125.5 L320.5 110.5 L326.5 95.5 L333.5 80.5 M134.5 365.5 L147.5 350.5 L167.5 335.5 L174.5 320.5 L181.5 305.5 L200.5 290.5 L214.5 275.5 L220.5 260.5 L227.5 245.5 L247.5 230.5 L260.5 215.5 L273.5 200.5 L280.5 185.5 L287.5 170.5 L287.5 155.5 L293.5 140.5 L300.5 125.5 L300.5 110.5 L306.5 95.5 L313.5 80.5 M141.5 365.5 L161.5 350.5 L181.5 335.5 L200.5 320.5 L220.5 305.5 L240.5 290.5 L260.5 275.5 L293.5 260.5 L313.5 245.5 L326.5 230.5 L333.5 215.5 L333.5 200.5 L340.5 185.5 L340.5 170.5 L346.5 155.5 L346.5 140.5 L353.5 125.5 L359.5 110.5 L359.5 95.5 L366.5 80.5 M128.5 365.5 L154.5 350.5 L181.5 335.5 L194.5 320.5 L200.5 305.5 L220.5 290.5 L234.5 275.5 L260.5 260.5 L287.5 245.5 L287.5 230.5 L287.5 215.5 L287.5 200.5 L287.5 185.5 L287.5 170.5 L293.5 155.5 L306.5 140.5 L313.5 125.5 L313.5 110.5 L320.5 95.5 L326.5 80.5 M101.5 365.5 L114.5 350.5 L121.5 335.5 L134.5 320.5 L141.5 305.5 L154.5 290.5 L154.5 275.5 L161.5 260.5 L181.5 245.5 L200.5 230.5 L200.5 215.5 L207.5 200.5 L207.5 185.5 L214.5 170.5 L214.5 155.5 L214.5 140.5 L220.5 125.5 L220.5 110.5 L227.5 95.5 L227.5 80.5 M128.5 365.5 L141.5 350.5 L147.5 335.5 L161.5 320.5 L174.5 305.5 L181.5 290.5 L194.5 275.5 L200.5 260.5 L207.5 245.5 L214.5 230.5 L220.5 215.5 L220.5 200.5 L220.5 185.5 L227.5 170.5 L234.5 155.5 L240.5 140.5 L247.5 125.5 L260.5 110.5 L267.5 95.5 L273.5 80.5 M101.5 365.5 L108.5 350.5 L114.5 335.5 L121.5 320.5 L128.5 305.5 L141.5 290.5 L141.5 275.5 L161.5 260.5 L174.5 245.5 L181.5 230.5 L181.5 215.5 L187.5 200.5 L194.5 185.5 L200.5 170.5 L200.5 155.5 L207.5 140.5 L214.5 125.5 L220.5 110.5 L227.5 95.5 L227.5 80.5 M108.5 365.5 L121.5 350.5 L134.5 335.5 L141.5 320.5 L154.5 305.5 L181.5 290.5 L194.5 275.5 L220.5 260.5 L273.5 245.5 L280.5 230.5 L280.5 215.5 L280.5 200.5 L293.5 185.5 L300.5 170.5 L306.5 155.5 L313.5 140.5 L320.5 125.5 L333.5 110.5 L340.5 95.5 L346.5 80.5 M121.5 365.5 L147.5 350.5 L167.5 335.5 L181.5 320.5 L200.5 305.5 L207.5 290.5 L214.5 275.5 L214.5 260.5 L214.5 245.5 L214.5 230.5 L220.5 215.5 L220.5 200.5 L234.5 185.5 L234.5 170.5 L234.5 155.5 L247.5 140.5 L253.5 125.5 L260.5 110.5 L273.5 95.5 L287.5 80.5 M121.5 365.5 L141.5 350.5 L161.5 335.5 L174.5 320.5 L187.5 305.5 L220.5 290.5 L240.5 275.5 L253.5 260.5 L260.5 245.5 L280.5 230.5 L300.5 215.5 L320.5 200.5 L333.5 185.5 L346.5 170.5 L353.5 155.5 L373.5 140.5 L386.5 125.5 L393.5 110.5 L412.5 95.5 L419.5 80.5 M108.5 365.5 L114.5 350.5 L121.5 335.5 L128.5 320.5 L141.5 305.5 L154.5 290.5 L167.5 275.5 L181.5 260.5 L200.5 245.5 L200.5 230.5 L207.5 215.5 L214.5 200.5 L214.5 185.5 L220.5 170.5 L220.5 155.5 L227.5 140.5 L234.5 125.5 L240.5 110.5 L247.5 95.5 L253.5 80.5 M121.5 365.5 L147.5 350.5 L174.5 335.5 L181.5 320.5 L187.5 305.5 L194.5 290.5 L207.5 275.5 L220.5 260.5 L227.5 245.5 L234.5 230.5 L240.5 215.5 L240.5 200.5 L247.5 185.5 L253.5 170.5 L260.5 155.5 L267.5 140.5 L273.5 125.5 L280.5 110.5 L287.5 95.5 L293.5 80.5 M141.5 365.5 L154.5 350.5 L181.5 335.5 L200.5 320.5 L220.5 305.5 L247.5 290.5 L267.5 275.5 L267.5 260.5 L300.5 245.5 L306.5 230.5 L326.5 215.5 L326.5 200.5 L340.5 185.5 L346.5 170.5 L366.5 155.5 L386.5 140.5 L386.5 125.5 L412.5 110.5 L419.5 95.5 L446.5 80.5 M114.5 365.5 L134.5 350.5 L154.5 335.5 L167.5 320.5 L194.5 305.5 L200.5 290.5 L220.5 275.5 L234.5 260.5 L234.5 245.5 L234.5 230.5 L234.5 215.5 L234.5 200.5 L240.5 185.5 L240.5 170.5 L247.5 155.5 L253.5 140.5 L253.5 125.5 L260.5 110.5 L267.5 95.5 L273.5 80.5 M114.5 365.5 L128.5 350.5 L141.5 335.5 L147.5 320.5 L161.5 305.5 L161.5 290.5 L167.5 275.5 L181.5 260.5 L187.5 245.5 L194.5 230.5 L214.5 215.5 L220.5 200.5 L220.5 185.5 L227.5 170.5 L227.5 155.5 L234.5 140.5 L240.5 125.5 L240.5 110.5 L247.5 95.5 L247.5 80.5 M141.5 365.5 L167.5 350.5 L181.5 335.5 L194.5 320.5 L220.5 305.5 L240.5 290.5 L253.5 275.5 L287.5 260.5 L300.5 245.5 L320.5 230.5 L333.5 215.5 L373.5 200.5 L393.5 185.5 L399.5 170.5 L412.5 155.5 L419.5 140.5 L426.5 125.5 L432.5 110.5 L446.5 95.5 L452.5 80.5 M121.5 365.5 L134.5 350.5 L147.5 335.5 L161.5 320.5 L174.5 305.5 L181.5 290.5 L181.5 275.5 L187.5 260.5 L187.5 245.5 L194.5 230.5 L214.5 215.5 L227.5 200.5 L234.5 185.5 L240.5 170.5 L247.5 155.5 L253.5 140.5 L253.5 125.5 L260.5 110.5 L267.5 95.5 L273.5 80.5 M101.5 365.5 L114.5 350.5 L134.5 335.5 L161.5 320.5 L181.5 305.5 L207.5 290.5 L214.5 275.5 L227.5 260.5 L247.5 245.5 L247.5 230.5 L260.5 215.5 L273.5 200.5 L287.5 185.5 L300.5 170.5 L313.5 155.5 L320.5 140.5 L326.5 125.5 L340.5 110.5 L353.5 95.5 L359.5 80.5 M101.5 365.5 L108.5 350.5 L121.5 335.5 L121.5 320.5 L128.5 305.5 L134.5 290.5 L141.5 275.5 L147.5 260.5 L167.5 245.5 L187.5 230.5 L194.5 215.5 L200.5 200.5 L207.5 185.5 L214.5 170.5 L214.5 155.5 L220.5 140.5 L220.5 125.5 L227.5 110.5 L227.5 95.5 L227.5 80.5 M128.5 365.5 L134.5 350.5 L141.5 335.5 L147.5 320.5 L161.5 305.5 L200.5 290.5 L214.5 275.5 L214.5 260.5 L220.5 245.5 L220.5 230.5 L220.5 215.5 L234.5 200.5 L240.5 185.5 L253.5 170.5 L260.5 155.5 L287.5 140.5 L300.5 125.5 L313.5 110.5 L326.5 95.5 L346.5 80.5 M121.5 365.5 L128.5 350.5 L141.5 335.5 L141.5 320.5 L141.5 305.5 L200.5 290.5 L207.5 275.5 L214.5 260.5 L214.5 245.5 L220.5 230.5 L234.5 215.5 L240.5 200.5 L267.5 185.5 L280.5 170.5 L300.5 155.5 L313.5 140.5 L326.5 125.5 L340.5 110.5 L346.5 95.5 L366.5 80.5 M134.5 365.5 L154.5 350.5 L174.5 335.5 L194.5 320.5 L207.5 305.5 L220.5 290.5 L234.5 275.5 L253.5 260.5 L267.5 245.5 L273.5 230.5 L287.5 215.5 L287.5 200.5 L287.5 185.5 L293.5 170.5 L293.5 155.5 L293.5 140.5 L300.5 125.5 L306.5 110.5 L306.5 95.5 L306.5 80.5 M101.5 365.5 L114.5 350.5 L134.5 335.5 L147.5 320.5 L167.5 305.5 L181.5 290.5 L207.5 275.5 L227.5 260.5 L234.5 245.5 L260.5 230.5 L273.5 215.5 L293.5 200.5 L300.5 185.5 L300.5 170.5 L306.5 155.5 L313.5 140.5 L320.5 125.5 L326.5 110.5 L333.5 95.5 L340.5 80.5 M141.5 365.5 L147.5 350.5 L167.5 335.5 L181.5 320.5 L220.5 305.5 L253.5 290.5 L273.5 275.5 L287.5 260.5 L293.5 245.5 L306.5 230.5 L313.5 215.5 L326.5 200.5 L333.5 185.5 L340.5 170.5 L346.5 155.5 L353.5 140.5 L353.5 125.5 L359.5 110.5 L366.5 95.5 L366.5 80.5 M121.5 365.5 L128.5 350.5 L141.5 335.5 L147.5 320.5 L161.5 305.5 L187.5 290.5 L240.5 275.5 L260.5 260.5 L280.5 245.5 L287.5 230.5 L300.5 215.5 L300.5 200.5 L306.5 185.5 L313.5 170.5 L326.5 155.5 L333.5 140.5 L340.5 125.5 L346.5 110.5 L359.5 95.5 L366.5 80.5 M121.5 365.5 L134.5 350.5 L147.5 335.5 L154.5 320.5 L154.5 305.5 L167.5 290.5 L174.5 275.5 L181.5 260.5 L194.5 245.5 L200.5 230.5 L227.5 215.5 L247.5 200.5 L253.5 185.5 L267.5 170.5 L273.5 155.5 L273.5 140.5 L287.5 125.5 L293.5 110.5 L300.5 95.5 L313.5 80.5 M114.5 365.5 L121.5 350.5 L128.5 335.5 L134.5 320.5 L147.5 305.5 L174.5 290.5 L194.5 275.5 L194.5 260.5 L200.5 245.5 L207.5 230.5 L214.5 215.5 L214.5 200.5 L227.5 185.5 L227.5 170.5 L247.5 155.5 L253.5 140.5 L260.5 125.5 L273.5 110.5 L280.5 95.5 L293.5 80.5 M128.5 365.5 L141.5 350.5 L161.5 335.5 L174.5 320.5 L181.5 305.5 L194.5 290.5 L200.5 275.5 L220.5 260.5 L247.5 245.5 L253.5 230.5 L253.5 215.5 L253.5 200.5 L260.5 185.5 L267.5 170.5 L273.5 155.5 L280.5 140.5 L293.5 125.5 L300.5 110.5 L306.5 95.5 L313.5 80.5 M128.5 365.5 L147.5 350.5 L161.5 335.5 L174.5 320.5 L207.5 305.5 L234.5 290.5 L247.5 275.5 L267.5 260.5 L293.5 245.5 L313.5 230.5 L340.5 215.5 L359.5 200.5 L366.5 185.5 L373.5 170.5 L379.5 155.5 L393.5 140.5 L399.5 125.5 L406.5 110.5 L412.5 95.5 L419.5 80.5 M101.5 365.5 L114.5 350.5 L128.5 335.5 L134.5 320.5 L141.5 305.5 L147.5 290.5 L154.5 275.5 L174.5 260.5 L187.5 245.5 L194.5 230.5 L200.5 215.5 L207.5 200.5 L214.5 185.5 L227.5 170.5 L234.5 155.5 L234.5 140.5 L253.5 125.5 L267.5 110.5 L273.5 95.5 L280.5 80.5 M134.5 365.5 L147.5 350.5 L161.5 335.5 L167.5 320.5 L181.5 305.5 L200.5 290.5 L220.5 275.5 L247.5 260.5 L267.5 245.5 L280.5 230.5 L280.5 215.5 L293.5 200.5 L306.5 185.5 L313.5 170.5 L320.5 155.5 L320.5 140.5 L326.5 125.5 L326.5 110.5 L333.5 95.5 L340.5 80.5 M128.5 365.5 L141.5 350.5 L154.5 335.5 L174.5 320.5 L194.5 305.5 L220.5 290.5 L234.5 275.5 L247.5 260.5 L247.5 245.5 L267.5 230.5 L273.5 215.5 L287.5 200.5 L293.5 185.5 L300.5 170.5 L300.5 155.5 L306.5 140.5 L306.5 125.5 L306.5 110.5 L306.5 95.5 L306.5 80.5 M128.5 365.5 L147.5 350.5 L167.5 335.5 L181.5 320.5 L194.5 305.5 L207.5 290.5 L214.5 275.5 L234.5 260.5 L260.5 245.5 L273.5 230.5 L287.5 215.5 L306.5 200.5 L320.5 185.5 L333.5 170.5 L340.5 155.5 L346.5 140.5 L353.5 125.5 L359.5 110.5 L366.5 95.5 L373.5 80.5 M121.5 365.5 L134.5 350.5 L134.5 335.5 L141.5 320.5 L154.5 305.5 L181.5 290.5 L194.5 275.5 L207.5 260.5 L207.5 245.5 L220.5 230.5 L227.5 215.5 L240.5 200.5 L247.5 185.5 L253.5 170.5 L267.5 155.5 L273.5 140.5 L280.5 125.5 L287.5 110.5 L300.5 95.5 L306.5 80.5 M128.5 365.5 L141.5 350.5 L147.5 335.5 L161.5 320.5 L161.5 305.5 L227.5 290.5 L234.5 275.5 L253.5 260.5 L267.5 245.5 L273.5 230.5 L287.5 215.5 L306.5 200.5 L326.5 185.5 L346.5 170.5 L359.5 155.5 L379.5 140.5 L393.5 125.5 L406.5 110.5 L439.5 95.5 L446.5 80.5 M128.5 365.5 L134.5 350.5 L141.5 335.5 L154.5 320.5 L161.5 305.5 L167.5 290.5 L187.5 275.5 L214.5 260.5 L240.5 245.5 L247.5 230.5 L247.5 215.5 L247.5 200.5 L247.5 185.5 L253.5 170.5 L260.5 155.5 L280.5 140.5 L287.5 125.5 L293.5 110.5 L306.5 95.5 L313.5 80.5 M141.5 365.5 L161.5 350.5 L181.5 335.5 L194.5 320.5 L214.5 305.5 L227.5 290.5 L247.5 275.5 L260.5 260.5 L300.5 245.5 L306.5 230.5 L306.5 215.5 L306.5 200.5 L306.5 185.5 L313.5 170.5 L320.5 155.5 L326.5 140.5 L340.5 125.5 L346.5 110.5 L353.5 95.5 L366.5 80.5 M134.5 365.5 L147.5 350.5 L154.5 335.5 L174.5 320.5 L187.5 305.5 L214.5 290.5 L240.5 275.5 L267.5 260.5 L293.5 245.5 L320.5 230.5 L326.5 215.5 L353.5 200.5 L366.5 185.5 L373.5 170.5 L386.5 155.5 L399.5 140.5 L412.5 125.5 L419.5 110.5 L426.5 95.5 L439.5 80.5 M108.5 365.5 L114.5 350.5 L121.5 335.5 L128.5 320.5 L134.5 305.5 L147.5 290.5 L161.5 275.5 L174.5 260.5 L187.5 245.5 L200.5 230.5 L207.5 215.5 L214.5 200.5 L220.5 185.5 L234.5 170.5 L240.5 155.5 L253.5 140.5 L260.5 125.5 L267.5 110.5 L280.5 95.5 L287.5 80.5 M128.5 365.5 L134.5 350.5 L147.5 335.5 L161.5 320.5 L167.5 305.5 L194.5 290.5 L227.5 275.5 L240.5 260.5 L253.5 245.5 L260.5 230.5 L267.5 215.5 L273.5 200.5 L287.5 185.5 L287.5 170.5 L293.5 155.5 L300.5 140.5 L306.5 125.5 L313.5 110.5 L320.5 95.5 L326.5 80.5 M108.5 365.5 L121.5 350.5 L128.5 335.5 L141.5 320.5 L161.5 305.5 L174.5 290.5 L187.5 275.5 L194.5 260.5 L194.5 245.5 L214.5 230.5 L227.5 215.5 L247.5 200.5 L253.5 185.5 L260.5 170.5 L273.5 155.5 L280.5 140.5 L287.5 125.5 L293.5 110.5 L306.5 95.5 L306.5 80.5 M114.5 365.5 L128.5 350.5 L154.5 335.5 L167.5 320.5 L200.5 305.5 L220.5 290.5 L220.5 275.5 L234.5 260.5 L247.5 245.5 L253.5 230.5 L260.5 215.5 L273.5 200.5 L273.5 185.5 L287.5 170.5 L300.5 155.5 L306.5 140.5 L313.5 125.5 L320.5 110.5 L333.5 95.5 L340.5 80.5 M114.5 365.5 L121.5 350.5 L134.5 335.5 L141.5 320.5 L147.5 305.5 L154.5 290.5 L181.5 275.5 L207.5 260.5 L220.5 245.5 L234.5 230.5 L240.5 215.5 L247.5 200.5 L260.5 185.5 L267.5 170.5 L273.5 155.5 L280.5 140.5 L293.5 125.5 L306.5 110.5 L313.5 95.5 L326.5 80.5 M101.5 365.5 L108.5 350.5 L114.5 335.5 L121.5 320.5 L134.5 305.5 L134.5 290.5 L141.5 275.5 L161.5 260.5 L167.5 245.5 L174.5 230.5 L174.5 215.5 L187.5 200.5 L187.5 185.5 L187.5 170.5 L194.5 155.5 L194.5 140.5 L200.5 125.5 L200.5 110.5 L207.5 95.5 L214.5 80.5 M128.5 365.5 L141.5 350.5 L154.5 335.5 L174.5 320.5 L181.5 305.5 L200.5 290.5 L214.5 275.5 L227.5 260.5 L227.5 245.5 L227.5 230.5 L227.5 215.5 L234.5 200.5 L234.5 185.5 L247.5 170.5 L253.5 155.5 L260.5 140.5 L273.5 125.5 L280.5 110.5 L287.5 95.5 L300.5 80.5 M94.5 365.5 L101.5 350.5 L108.5 335.5 L114.5 320.5 L121.5 305.5 L128.5 290.5 L134.5 275.5 L161.5 260.5 L187.5 245.5 L187.5 230.5 L187.5 215.5 L187.5 200.5 L187.5 185.5 L187.5 170.5 L194.5 155.5 L194.5 140.5 L200.5 125.5 L207.5 110.5 L214.5 95.5 L220.5 80.5 M141.5 365.5 L147.5 350.5 L154.5 335.5 L167.5 320.5 L181.5 305.5 L214.5 290.5 L240.5 275.5 L247.5 260.5 L260.5 245.5 L267.5 230.5 L267.5 215.5 L267.5 200.5 L267.5 185.5 L273.5 170.5 L280.5 155.5 L293.5 140.5 L300.5 125.5 L313.5 110.5 L320.5 95.5 L333.5 80.5 M128.5 365.5 L147.5 350.5 L154.5 335.5 L167.5 320.5 L181.5 305.5 L207.5 290.5 L220.5 275.5 L227.5 260.5 L234.5 245.5 L240.5 230.5 L240.5 215.5 L247.5 200.5 L253.5 185.5 L260.5 170.5 L267.5 155.5 L273.5 140.5 L280.5 125.5 L287.5 110.5 L293.5 95.5 L300.5 80.5 M128.5 365.5 L134.5 350.5 L147.5 335.5 L154.5 320.5 L167.5 305.5 L181.5 290.5 L207.5 275.5 L207.5 260.5 L207.5 245.5 L207.5 230.5 L214.5 215.5 L214.5 200.5 L227.5 185.5 L234.5 170.5 L240.5 155.5 L247.5 140.5 L253.5 125.5 L260.5 110.5 L267.5 95.5 L273.5 80.5 M134.5 365.5 L154.5 350.5 L174.5 335.5 L187.5 320.5 L200.5 305.5 L207.5 290.5 L207.5 275.5 L214.5 260.5 L214.5 245.5 L214.5 230.5 L227.5 215.5 L234.5 200.5 L240.5 185.5 L240.5 170.5 L240.5 155.5 L247.5 140.5 L253.5 125.5 L253.5 110.5 L260.5 95.5 L260.5 80.5 M101.5 365.5 L114.5 350.5 L128.5 335.5 L141.5 320.5 L147.5 305.5 L154.5 290.5 L161.5 275.5 L174.5 260.5 L187.5 245.5 L200.5 230.5 L214.5 215.5 L220.5 200.5 L227.5 185.5 L240.5 170.5 L240.5 155.5 L247.5 140.5 L267.5 125.5 L273.5 110.5 L280.5 95.5 L293.5 80.5 M134.5 365.5 L147.5 350.5 L167.5 335.5 L194.5 320.5 L227.5 305.5 L247.5 290.5 L267.5 275.5 L267.5 260.5 L280.5 245.5 L293.5 230.5 L306.5 215.5 L320.5 200.5 L333.5 185.5 L346.5 170.5 L373.5 155.5 L386.5 140.5 L399.5 125.5 L412.5 110.5 L426.5 95.5 L439.5 80.5 M108.5 365.5 L121.5 350.5 L141.5 335.5 L147.5 320.5 L161.5 305.5 L167.5 290.5 L167.5 275.5 L187.5 260.5 L194.5 245.5 L194.5 230.5 L214.5 215.5 L220.5 200.5 L240.5 185.5 L253.5 170.5 L260.5 155.5 L267.5 140.5 L287.5 125.5 L287.5 110.5 L300.5 95.5 L313.5 80.5 M114.5 365.5 L128.5 350.5 L134.5 335.5 L141.5 320.5 L154.5 305.5 L174.5 290.5 L207.5 275.5 L227.5 260.5 L253.5 245.5 L253.5 230.5 L260.5 215.5 L267.5 200.5 L273.5 185.5 L287.5 170.5 L293.5 155.5 L300.5 140.5 L306.5 125.5 L313.5 110.5 L320.5 95.5 L326.5 80.5 M141.5 365.5 L161.5 350.5 L181.5 335.5 L200.5 320.5 L214.5 305.5 L227.5 290.5 L240.5 275.5 L267.5 260.5 L287.5 245.5 L306.5 230.5 L306.5 215.5 L313.5 200.5 L320.5 185.5 L333.5 170.5 L340.5 155.5 L346.5 140.5 L353.5 125.5 L359.5 110.5 L366.5 95.5 L373.5 80.5 M141.5 365.5 L154.5 350.5 L167.5 335.5 L181.5 320.5 L194.5 305.5 L220.5 290.5 L260.5 275.5 L287.5 260.5 L306.5 245.5 L333.5 230.5 L353.5 215.5 L373.5 200.5 L386.5 185.5 L412.5 170.5 L426.5 155.5 L439.5 140.5 L452.5 125.5 L459.5 110.5 L479.5 95.5 L492.5 80.5 M121.5 365.5 L141.5 350.5 L161.5 335.5 L167.5 320.5 L174.5 305.5 L194.5 290.5 L214.5 275.5 L234.5 260.5 L260.5 245.5 L267.5 230.5 L273.5 215.5 L287.5 200.5 L293.5 185.5 L293.5 170.5 L300.5 155.5 L300.5 140.5 L300.5 125.5 L306.5 110.5 L306.5 95.5 L313.5 80.5 M134.5 365.5 L147.5 350.5 L174.5 335.5 L200.5 320.5 L227.5 305.5 L247.5 290.5 L253.5 275.5 L253.5 260.5 L253.5 245.5 L260.5 230.5 L260.5 215.5 L306.5 200.5 L326.5 185.5 L346.5 170.5 L366.5 155.5 L373.5 140.5 L386.5 125.5 L393.5 110.5 L399.5 95.5 L412.5 80.5 M121.5 365.5 L134.5 350.5 L161.5 335.5 L167.5 320.5 L174.5 305.5 L181.5 290.5 L187.5 275.5 L200.5 260.5 L207.5 245.5 L214.5 230.5 L220.5 215.5 L220.5 200.5 L234.5 185.5 L240.5 170.5 L247.5 155.5 L253.5 140.5 L273.5 125.5 L280.5 110.5 L300.5 95.5 L300.5 80.5 M134.5 365.5 L161.5 350.5 L181.5 335.5 L194.5 320.5 L200.5 305.5 L220.5 290.5 L240.5 275.5 L253.5 260.5 L313.5 245.5 L333.5 230.5 L353.5 215.5 L359.5 200.5 L366.5 185.5 L373.5 170.5 L379.5 155.5 L386.5 140.5 L393.5 125.5 L399.5 110.5 L406.5 95.5 L412.5 80.5 M114.5 365.5 L128.5 350.5 L141.5 335.5 L154.5 320.5 L174.5 305.5 L207.5 290.5 L207.5 275.5 L207.5 260.5 L214.5 245.5 L220.5 230.5 L220.5 215.5 L227.5 200.5 L234.5 185.5 L240.5 170.5 L247.5 155.5 L260.5 140.5 L267.5 125.5 L280.5 110.5 L293.5 95.5 L306.5 80.5 M121.5 365.5 L141.5 350.5 L161.5 335.5 L181.5 320.5 L207.5 305.5 L220.5 290.5 L234.5 275.5 L253.5 260.5 L267.5 245.5 L267.5 230.5 L273.5 215.5 L273.5 200.5 L273.5 185.5 L287.5 170.5 L300.5 155.5 L306.5 140.5 L320.5 125.5 L320.5 110.5 L333.5 95.5 L346.5 80.5 M108.5 365.5 L134.5 350.5 L147.5 335.5 L161.5 320.5 L167.5 305.5 L181.5 290.5 L187.5 275.5 L207.5 260.5 L207.5 245.5 L214.5 230.5 L227.5 215.5 L234.5 200.5 L240.5 185.5 L253.5 170.5 L260.5 155.5 L267.5 140.5 L273.5 125.5 L280.5 110.5 L293.5 95.5 L293.5 80.5 M101.5 365.5 L101.5 350.5 L108.5 335.5 L114.5 320.5 L121.5 305.5 L128.5 290.5 L141.5 275.5 L147.5 260.5 L154.5 245.5 L174.5 230.5 L181.5 215.5 L187.5 200.5 L194.5 185.5 L194.5 170.5 L194.5 155.5 L200.5 140.5 L200.5 125.5 L207.5 110.5 L207.5 95.5 L214.5 80.5 M128.5 365.5 L154.5 350.5 L181.5 335.5 L200.5 320.5 L227.5 305.5 L247.5 290.5 L253.5 275.5 L260.5 260.5 L267.5 245.5 L273.5 230.5 L273.5 215.5 L273.5 200.5 L273.5 185.5 L280.5 170.5 L280.5 155.5 L280.5 140.5 L287.5 125.5 L287.5 110.5 L287.5 95.5 L293.5 80.5 M101.5 365.5 L108.5 350.5 L114.5 335.5 L128.5 320.5 L128.5 305.5 L134.5 290.5 L147.5 275.5 L161.5 260.5 L174.5 245.5 L181.5 230.5 L194.5 215.5 L200.5 200.5 L207.5 185.5 L220.5 170.5 L227.5 155.5 L234.5 140.5 L240.5 125.5 L253.5 110.5 L260.5 95.5 L267.5 80.5 M94.5 365.5 L108.5 350.5 L121.5 335.5 L134.5 320.5 L147.5 305.5 L154.5 290.5 L167.5 275.5 L181.5 260.5 L187.5 245.5 L194.5 230.5 L200.5 215.5 L207.5 200.5 L214.5 185.5 L220.5 170.5 L220.5 155.5 L220.5 140.5 L227.5 125.5 L227.5 110.5 L234.5 95.5 L234.5 80.5 M128.5 365.5 L134.5 350.5 L147.5 335.5 L154.5 320.5 L167.5 305.5 L181.5 290.5 L200.5 275.5 L220.5 260.5 L227.5 245.5 L240.5 230.5 L240.5 215.5 L240.5 200.5 L247.5 185.5 L260.5 170.5 L260.5 155.5 L273.5 140.5 L287.5 125.5 L300.5 110.5 L313.5 95.5 L326.5 80.5 M147.5 365.5 L161.5 350.5 L181.5 335.5 L187.5 320.5 L200.5 305.5 L207.5 290.5 L220.5 275.5 L234.5 260.5 L240.5 245.5 L260.5 230.5 L287.5 215.5 L300.5 200.5 L313.5 185.5 L320.5 170.5 L320.5 155.5 L326.5 140.5 L333.5 125.5 L346.5 110.5 L353.5 95.5 L359.5 80.5 M108.5 365.5 L114.5 350.5 L121.5 335.5 L128.5 320.5 L134.5 305.5 L147.5 290.5 L154.5 275.5 L161.5 260.5 L187.5 245.5 L194.5 230.5 L207.5 215.5 L207.5 200.5 L214.5 185.5 L220.5 170.5 L220.5 155.5 L227.5 140.5 L234.5 125.5 L240.5 110.5 L240.5 95.5 L247.5 80.5 M134.5 365.5 L147.5 350.5 L167.5 335.5 L187.5 320.5 L220.5 305.5 L240.5 290.5 L260.5 275.5 L280.5 260.5 L293.5 245.5 L306.5 230.5 L306.5 215.5 L359.5 200.5 L379.5 185.5 L393.5 170.5 L399.5 155.5 L412.5 140.5 L426.5 125.5 L452.5 110.5 L465.5 95.5 L479.5 80.5 M128.5 365.5 L141.5 350.5 L147.5 335.5 L161.5 320.5 L187.5 305.5 L247.5 290.5 L267.5 275.5 L280.5 260.5 L287.5 245.5 L306.5 230.5 L313.5 215.5 L326.5 200.5 L340.5 185.5 L353.5 170.5 L359.5 155.5 L379.5 140.5 L399.5 125.5 L406.5 110.5 L426.5 95.5 L439.5 80.5 M108.5 365.5 L114.5 350.5 L128.5 335.5 L141.5 320.5 L147.5 305.5 L147.5 290.5 L154.5 275.5 L161.5 260.5 L174.5 245.5 L187.5 230.5 L194.5 215.5 L207.5 200.5 L214.5 185.5 L220.5 170.5 L234.5 155.5 L253.5 140.5 L260.5 125.5 L273.5 110.5 L287.5 95.5 L300.5 80.5 M128.5 365.5 L141.5 350.5 L147.5 335.5 L161.5 320.5 L174.5 305.5 L234.5 290.5 L253.5 275.5 L267.5 260.5 L287.5 245.5 L300.5 230.5 L300.5 215.5 L300.5 200.5 L300.5 185.5 L306.5 170.5 L313.5 155.5 L320.5 140.5 L326.5 125.5 L333.5 110.5 L346.5 95.5 L353.5 80.5 M128.5 365.5 L134.5 350.5 L147.5 335.5 L167.5 320.5 L194.5 305.5 L234.5 290.5 L247.5 275.5 L253.5 260.5 L273.5 245.5 L280.5 230.5 L293.5 215.5 L300.5 200.5 L313.5 185.5 L326.5 170.5 L333.5 155.5 L340.5 140.5 L346.5 125.5 L353.5 110.5 L359.5 95.5 L366.5 80.5 M134.5 365.5 L141.5 350.5 L147.5 335.5 L167.5 320.5 L174.5 305.5 L181.5 290.5 L207.5 275.5 L220.5 260.5 L300.5 245.5 L306.5 230.5 L306.5 215.5 L313.5 200.5 L320.5 185.5 L326.5 170.5 L333.5 155.5 L340.5 140.5 L346.5 125.5 L353.5 110.5 L366.5 95.5 L373.5 80.5 M128.5 365.5 L134.5 350.5 L141.5 335.5 L147.5 320.5 L161.5 305.5 L187.5 290.5 L214.5 275.5 L214.5 260.5 L227.5 245.5 L240.5 230.5 L253.5 215.5 L260.5 200.5 L260.5 185.5 L267.5 170.5 L267.5 155.5 L273.5 140.5 L280.5 125.5 L287.5 110.5 L287.5 95.5 L293.5 80.5 M134.5 365.5 L154.5 350.5 L181.5 335.5 L194.5 320.5 L220.5 305.5 L247.5 290.5 L273.5 275.5 L287.5 260.5 L313.5 245.5 L320.5 230.5 L320.5 215.5 L326.5 200.5 L326.5 185.5 L333.5 170.5 L333.5 155.5 L340.5 140.5 L346.5 125.5 L346.5 110.5 L353.5 95.5 L359.5 80.5 M108.5 365.5 L114.5 350.5 L121.5 335.5 L134.5 320.5 L147.5 305.5 L154.5 290.5 L161.5 275.5 L174.5 260.5 L187.5 245.5 L200.5 230.5 L214.5 215.5 L227.5 200.5 L234.5 185.5 L240.5 170.5 L247.5 155.5 L253.5 140.5 L260.5 125.5 L273.5 110.5 L280.5 95.5 L287.5 80.5 M134.5 365.5 L147.5 350.5 L167.5 335.5 L187.5 320.5 L200.5 305.5 L227.5 290.5 L240.5 275.5 L260.5 260.5 L273.5 245.5 L293.5 230.5 L293.5 215.5 L293.5 200.5 L293.5 185.5 L306.5 170.5 L313.5 155.5 L320.5 140.5 L333.5 125.5 L346.5 110.5 L353.5 95.5 L359.5 80.5 M114.5 365.5 L121.5 350.5 L128.5 335.5 L134.5 320.5 L141.5 305.5 L161.5 290.5 L167.5 275.5 L174.5 260.5 L181.5 245.5 L187.5 230.5 L194.5 215.5 L200.5 200.5 L207.5 185.5 L214.5 170.5 L220.5 155.5 L227.5 140.5 L234.5 125.5 L240.5 110.5 L247.5 95.5 L247.5 80.5 M101.5 365.5 L114.5 350.5 L121.5 335.5 L134.5 320.5 L147.5 305.5 L147.5 290.5 L161.5 275.5 L167.5 260.5 L187.5 245.5 L194.5 230.5 L194.5 215.5 L194.5 200.5 L200.5 185.5 L200.5 170.5 L207.5 155.5 L214.5 140.5 L220.5 125.5 L227.5 110.5 L234.5 95.5 L240.5 80.5 M128.5 365.5 L141.5 350.5 L147.5 335.5 L161.5 320.5 L174.5 305.5 L220.5 290.5 L253.5 275.5 L287.5 260.5 L306.5 245.5 L306.5 230.5 L313.5 215.5 L313.5 200.5 L320.5 185.5 L326.5 170.5 L340.5 155.5 L353.5 140.5 L366.5 125.5 L379.5 110.5 L393.5 95.5 L406.5 80.5 M121.5 365.5 L134.5 350.5 L147.5 335.5 L161.5 320.5 L167.5 305.5 L194.5 290.5 L214.5 275.5 L234.5 260.5 L240.5 245.5 L247.5 230.5 L247.5 215.5 L247.5 200.5 L247.5 185.5 L260.5 170.5 L280.5 155.5 L287.5 140.5 L293.5 125.5 L306.5 110.5 L313.5 95.5 L333.5 80.5 M94.5 365.5 L101.5 350.5 L108.5 335.5 L121.5 320.5 L128.5 305.5 L134.5 290.5 L141.5 275.5 L147.5 260.5 L154.5 245.5 L161.5 230.5 L167.5 215.5 L174.5 200.5 L181.5 185.5 L187.5 170.5 L194.5 155.5 L200.5 140.5 L207.5 125.5 L214.5 110.5 L220.5 95.5 L227.5 80.5 M141.5 365.5 L167.5 350.5 L181.5 335.5 L200.5 320.5 L227.5 305.5 L253.5 290.5 L273.5 275.5 L300.5 260.5 L313.5 245.5 L340.5 230.5 L359.5 215.5 L379.5 200.5 L393.5 185.5 L406.5 170.5 L412.5 155.5 L419.5 140.5 L426.5 125.5 L432.5 110.5 L439.5 95.5 L446.5 80.5 M128.5 365.5 L141.5 350.5 L161.5 335.5 L187.5 320.5 L200.5 305.5 L214.5 290.5 L220.5 275.5 L234.5 260.5 L247.5 245.5 L253.5 230.5 L260.5 215.5 L287.5 200.5 L300.5 185.5 L306.5 170.5 L313.5 155.5 L320.5 140.5 L326.5 125.5 L333.5 110.5 L340.5 95.5 L346.5 80.5 M121.5 365.5 L134.5 350.5 L154.5 335.5 L174.5 320.5 L200.5 305.5 L234.5 290.5 L253.5 275.5 L267.5 260.5 L293.5 245.5 L293.5 230.5 L293.5 215.5 L293.5 200.5 L293.5 185.5 L300.5 170.5 L306.5 155.5 L320.5 140.5 L326.5 125.5 L333.5 110.5 L340.5 95.5 L346.5 80.5 M108.5 365.5 L128.5 350.5 L141.5 335.5 L167.5 320.5 L181.5 305.5 L200.5 290.5 L214.5 275.5 L214.5 260.5 L220.5 245.5 L220.5 230.5 L220.5 215.5 L227.5 200.5 L234.5 185.5 L240.5 170.5 L247.5 155.5 L253.5 140.5 L260.5 125.5 L273.5 110.5 L280.5 95.5 L287.5 80.5 M101.5 365.5 L114.5 350.5 L134.5 335.5 L141.5 320.5 L147.5 305.5 L154.5 290.5 L161.5 275.5 L174.5 260.5 L194.5 245.5 L214.5 230.5 L227.5 215.5 L234.5 200.5 L240.5 185.5 L240.5 170.5 L247.5 155.5 L253.5 140.5 L253.5 125.5 L260.5 110.5 L267.5 95.5 L273.5 80.5 M128.5 365.5 L154.5 350.5 L174.5 335.5 L187.5 320.5 L200.5 305.5 L214.5 290.5 L220.5 275.5 L240.5 260.5 L253.5 245.5 L260.5 230.5 L267.5 215.5 L273.5 200.5 L293.5 185.5 L306.5 170.5 L306.5 155.5 L320.5 140.5 L326.5 125.5 L346.5 110.5 L353.5 95.5 L359.5 80.5 M101.5 365.5 L114.5 350.5 L121.5 335.5 L134.5 320.5 L147.5 305.5 L167.5 290.5 L187.5 275.5 L187.5 260.5 L194.5 245.5 L200.5 230.5 L200.5 215.5 L207.5 200.5 L214.5 185.5 L220.5 170.5 L227.5 155.5 L227.5 140.5 L234.5 125.5 L240.5 110.5 L240.5 95.5 L247.5 80.5 M101.5 365.5 L108.5 350.5 L121.5 335.5 L141.5 320.5 L161.5 305.5 L174.5 290.5 L181.5 275.5 L187.5 260.5 L200.5 245.5 L214.5 230.5 L214.5 215.5 L220.5 200.5 L234.5 185.5 L240.5 170.5 L253.5 155.5 L260.5 140.5 L267.5 125.5 L273.5 110.5 L280.5 95.5 L287.5 80.5 M134.5 365.5 L141.5 350.5 L161.5 335.5 L174.5 320.5 L214.5 305.5 L253.5 290.5 L267.5 275.5 L293.5 260.5 L313.5 245.5 L326.5 230.5 L340.5 215.5 L359.5 200.5 L366.5 185.5 L373.5 170.5 L386.5 155.5 L393.5 140.5 L406.5 125.5 L412.5 110.5 L419.5 95.5 L432.5 80.5 M121.5 365.5 L134.5 350.5 L154.5 335.5 L167.5 320.5 L174.5 305.5 L181.5 290.5 L187.5 275.5 L207.5 260.5 L214.5 245.5 L234.5 230.5 L247.5 215.5 L260.5 200.5 L267.5 185.5 L280.5 170.5 L287.5 155.5 L293.5 140.5 L300.5 125.5 L306.5 110.5 L320.5 95.5 L326.5 80.5 M121.5 365.5 L128.5 350.5 L141.5 335.5 L161.5 320.5 L167.5 305.5 L181.5 290.5 L187.5 275.5 L200.5 260.5 L207.5 245.5 L214.5 230.5 L214.5 215.5 L214.5 200.5 L220.5 185.5 L227.5 170.5 L240.5 155.5 L247.5 140.5 L253.5 125.5 L260.5 110.5 L267.5 95.5 L273.5 80.5 M108.5 365.5 L121.5 350.5 L128.5 335.5 L147.5 320.5 L154.5 305.5 L167.5 290.5 L167.5 275.5 L167.5 260.5 L181.5 245.5 L187.5 230.5 L200.5 215.5 L207.5 200.5 L220.5 185.5 L220.5 170.5 L234.5 155.5 L247.5 140.5 L253.5 125.5 L260.5 110.5 L280.5 95.5 L293.5 80.5 M114.5 365.5 L128.5 350.5 L141.5 335.5 L154.5 320.5 L181.5 305.5 L200.5 290.5 L234.5 275.5 L234.5 260.5 L234.5 245.5 L234.5 230.5 L234.5 215.5 L234.5 200.5 L234.5 185.5 L234.5 170.5 L240.5 155.5 L247.5 140.5 L253.5 125.5 L253.5 110.5 L260.5 95.5 L267.5 80.5 M147.5 365.5 L167.5 350.5 L181.5 335.5 L200.5 320.5 L227.5 305.5 L247.5 290.5 L253.5 275.5 L273.5 260.5 L287.5 245.5 L300.5 230.5 L320.5 215.5 L333.5 200.5 L340.5 185.5 L346.5 170.5 L346.5 155.5 L353.5 140.5 L353.5 125.5 L353.5 110.5 L353.5 95.5 L359.5 80.5 M101.5 365.5 L114.5 350.5 L128.5 335.5 L134.5 320.5 L141.5 305.5 L154.5 290.5 L154.5 275.5 L174.5 260.5 L187.5 245.5 L194.5 230.5 L194.5 215.5 L200.5 200.5 L200.5 185.5 L207.5 170.5 L214.5 155.5 L214.5 140.5 L220.5 125.5 L227.5 110.5 L234.5 95.5 L234.5 80.5 M114.5 365.5 L134.5 350.5 L147.5 335.5 L161.5 320.5 L174.5 305.5 L181.5 290.5 L200.5 275.5 L207.5 260.5 L214.5 245.5 L214.5 230.5 L234.5 215.5 L253.5 200.5 L267.5 185.5 L273.5 170.5 L273.5 155.5 L287.5 140.5 L300.5 125.5 L300.5 110.5 L313.5 95.5 L326.5 80.5 M128.5 365.5 L141.5 350.5 L154.5 335.5 L161.5 320.5 L174.5 305.5 L194.5 290.5 L207.5 275.5 L220.5 260.5 L227.5 245.5 L227.5 230.5 L234.5 215.5 L240.5 200.5 L247.5 185.5 L253.5 170.5 L260.5 155.5 L267.5 140.5 L273.5 125.5 L280.5 110.5 L287.5 95.5 L300.5 80.5 M108.5 365.5 L108.5 350.5 L114.5 335.5 L121.5 320.5 L128.5 305.5 L161.5 290.5 L167.5 275.5 L167.5 260.5 L174.5 245.5 L181.5 230.5 L187.5 215.5 L200.5 200.5 L200.5 185.5 L200.5 170.5 L207.5 155.5 L214.5 140.5 L214.5 125.5 L214.5 110.5 L220.5 95.5 L220.5 80.5 M94.5 365.5 L101.5 350.5 L108.5 335.5 L114.5 320.5 L121.5 305.5 L128.5 290.5 L134.5 275.5 L147.5 260.5 L154.5 245.5 L167.5 230.5 L174.5 215.5 L174.5 200.5 L181.5 185.5 L181.5 170.5 L187.5 155.5 L194.5 140.5 L194.5 125.5 L200.5 110.5 L200.5 95.5 L207.5 80.5 M101.5 365.5 L108.5 350.5 L108.5 335.5 L114.5 320.5 L121.5 305.5 L134.5 290.5 L141.5 275.5 L154.5 260.5 L161.5 245.5 L167.5 230.5 L174.5 215.5 L187.5 200.5 L200.5 185.5 L207.5 170.5 L214.5 155.5 L214.5 140.5 L220.5 125.5 L227.5 110.5 L227.5 95.5 L234.5 80.5 M101.5 365.5 L114.5 350.5 L121.5 335.5 L134.5 320.5 L141.5 305.5 L174.5 290.5 L174.5 275.5 L181.5 260.5 L194.5 245.5 L200.5 230.5 L207.5 215.5 L207.5 200.5 L207.5 185.5 L207.5 170.5 L214.5 155.5 L220.5 140.5 L227.5 125.5 L234.5 110.5 L234.5 95.5 L240.5 80.5 M114.5 365.5 L128.5 350.5 L141.5 335.5 L161.5 320.5 L181.5 305.5 L200.5 290.5 L207.5 275.5 L220.5 260.5 L227.5 245.5 L240.5 230.5 L253.5 215.5 L267.5 200.5 L280.5 185.5 L287.5 170.5 L300.5 155.5 L306.5 140.5 L320.5 125.5 L326.5 110.5 L340.5 95.5 L353.5 80.5 M114.5 365.5 L121.5 350.5 L134.5 335.5 L141.5 320.5 L154.5 305.5 L161.5 290.5 L167.5 275.5 L187.5 260.5 L200.5 245.5 L207.5 230.5 L214.5 215.5 L227.5 200.5 L240.5 185.5 L253.5 170.5 L267.5 155.5 L273.5 140.5 L287.5 125.5 L293.5 110.5 L300.5 95.5 L313.5 80.5 M121.5 365.5 L134.5 350.5 L154.5 335.5 L161.5 320.5 L181.5 305.5 L200.5 290.5 L200.5 275.5 L207.5 260.5 L207.5 245.5 L214.5 230.5 L214.5 215.5 L220.5 200.5 L220.5 185.5 L227.5 170.5 L234.5 155.5 L240.5 140.5 L247.5 125.5 L247.5 110.5 L253.5 95.5 L260.5 80.5 M134.5 365.5 L154.5 350.5 L167.5 335.5 L187.5 320.5 L207.5 305.5 L227.5 290.5 L247.5 275.5 L260.5 260.5 L287.5 245.5 L287.5 230.5 L300.5 215.5 L306.5 200.5 L320.5 185.5 L340.5 170.5 L359.5 155.5 L359.5 140.5 L379.5 125.5 L393.5 110.5 L412.5 95.5 L432.5 80.5 M101.5 365.5 L121.5 350.5 L134.5 335.5 L141.5 320.5 L154.5 305.5 L161.5 290.5 L167.5 275.5 L174.5 260.5 L187.5 245.5 L194.5 230.5 L200.5 215.5 L207.5 200.5 L207.5 185.5 L214.5 170.5 L214.5 155.5 L214.5 140.5 L220.5 125.5 L220.5 110.5 L220.5 95.5 L227.5 80.5 M108.5 365.5 L121.5 350.5 L128.5 335.5 L134.5 320.5 L141.5 305.5 L174.5 290.5 L194.5 275.5 L200.5 260.5 L207.5 245.5 L220.5 230.5 L234.5 215.5 L247.5 200.5 L273.5 185.5 L280.5 170.5 L293.5 155.5 L300.5 140.5 L313.5 125.5 L320.5 110.5 L333.5 95.5 L340.5 80.5 M108.5 365.5 L121.5 350.5 L128.5 335.5 L141.5 320.5 L147.5 305.5 L161.5 290.5 L174.5 275.5 L174.5 260.5 L181.5 245.5 L187.5 230.5 L200.5 215.5 L207.5 200.5 L227.5 185.5 L234.5 170.5 L240.5 155.5 L240.5 140.5 L247.5 125.5 L253.5 110.5 L253.5 95.5 L260.5 80.5 M121.5 365.5 L128.5 350.5 L141.5 335.5 L154.5 320.5 L161.5 305.5 L187.5 290.5 L207.5 275.5 L240.5 260.5 L253.5 245.5 L267.5 230.5 L280.5 215.5 L287.5 200.5 L293.5 185.5 L300.5 170.5 L306.5 155.5 L313.5 140.5 L320.5 125.5 L326.5 110.5 L326.5 95.5 L333.5 80.5 M128.5 365.5 L147.5 350.5 L167.5 335.5 L181.5 320.5 L207.5 305.5 L234.5 290.5 L240.5 275.5 L240.5 260.5 L247.5 245.5 L247.5 230.5 L253.5 215.5 L260.5 200.5 L267.5 185.5 L273.5 170.5 L287.5 155.5 L300.5 140.5 L313.5 125.5 L320.5 110.5 L346.5 95.5 L366.5 80.5 M128.5 365.5 L141.5 350.5 L147.5 335.5 L161.5 320.5 L181.5 305.5 L200.5 290.5 L214.5 275.5 L214.5 260.5 L214.5 245.5 L214.5 230.5 L220.5 215.5 L220.5 200.5 L227.5 185.5 L227.5 170.5 L234.5 155.5 L247.5 140.5 L253.5 125.5 L260.5 110.5 L267.5 95.5 L273.5 80.5 M134.5 365.5 L154.5 350.5 L181.5 335.5 L200.5 320.5 L220.5 305.5 L240.5 290.5 L253.5 275.5 L273.5 260.5 L300.5 245.5 L320.5 230.5 L333.5 215.5 L340.5 200.5 L353.5 185.5 L366.5 170.5 L373.5 155.5 L393.5 140.5 L399.5 125.5 L412.5 110.5 L426.5 95.5 L439.5 80.5 M101.5 365.5 L108.5 350.5 L121.5 335.5 L128.5 320.5 L134.5 305.5 L134.5 290.5 L141.5 275.5 L147.5 260.5 L161.5 245.5 L161.5 230.5 L181.5 215.5 L181.5 200.5 L187.5 185.5 L187.5 170.5 L194.5 155.5 L194.5 140.5 L200.5 125.5 L200.5 110.5 L207.5 95.5 L207.5 80.5 M101.5 365.5 L108.5 350.5 L114.5 335.5 L121.5 320.5 L141.5 305.5 L174.5 290.5 L187.5 275.5 L187.5 260.5 L194.5 245.5 L200.5 230.5 L200.5 215.5 L207.5 200.5 L214.5 185.5 L214.5 170.5 L227.5 155.5 L240.5 140.5 L253.5 125.5 L253.5 110.5 L260.5 95.5 L273.5 80.5 M128.5 365.5 L134.5 350.5 L147.5 335.5 L161.5 320.5 L174.5 305.5 L187.5 290.5 L194.5 275.5 L214.5 260.5 L220.5 245.5 L234.5 230.5 L267.5 215.5 L293.5 200.5 L300.5 185.5 L306.5 170.5 L313.5 155.5 L320.5 140.5 L326.5 125.5 L333.5 110.5 L340.5 95.5 L353.5 80.5 M101.5 365.5 L108.5 350.5 L114.5 335.5 L121.5 320.5 L134.5 305.5 L141.5 290.5 L147.5 275.5 L154.5 260.5 L181.5 245.5 L187.5 230.5 L194.5 215.5 L200.5 200.5 L207.5 185.5 L207.5 170.5 L207.5 155.5 L207.5 140.5 L214.5 125.5 L214.5 110.5 L220.5 95.5 L220.5 80.5 M134.5 365.5 L154.5 350.5 L181.5 335.5 L187.5 320.5 L200.5 305.5 L214.5 290.5 L227.5 275.5 L247.5 260.5 L260.5 245.5 L260.5 230.5 L260.5 215.5 L260.5 200.5 L260.5 185.5 L267.5 170.5 L273.5 155.5 L287.5 140.5 L287.5 125.5 L300.5 110.5 L306.5 95.5 L320.5 80.5 M114.5 365.5 L128.5 350.5 L147.5 335.5 L161.5 320.5 L167.5 305.5 L181.5 290.5 L187.5 275.5 L207.5 260.5 L240.5 245.5 L247.5 230.5 L260.5 215.5 L260.5 200.5 L267.5 185.5 L280.5 170.5 L287.5 155.5 L293.5 140.5 L306.5 125.5 L313.5 110.5 L320.5 95.5 L333.5 80.5 M114.5 365.5 L128.5 350.5 L147.5 335.5 L161.5 320.5 L167.5 305.5 L174.5 290.5 L187.5 275.5 L187.5 260.5 L194.5 245.5 L200.5 230.5 L200.5 215.5 L207.5 200.5 L220.5 185.5 L227.5 170.5 L234.5 155.5 L240.5 140.5 L247.5 125.5 L253.5 110.5 L260.5 95.5 L267.5 80.5 M101.5 365.5 L108.5 350.5 L114.5 335.5 L121.5 320.5 L134.5 305.5 L154.5 290.5 L167.5 275.5 L187.5 260.5 L200.5 245.5 L200.5 230.5 L207.5 215.5 L220.5 200.5 L220.5 185.5 L227.5 170.5 L240.5 155.5 L253.5 140.5 L253.5 125.5 L267.5 110.5 L273.5 95.5 L280.5 80.5 M108.5 365.5 L121.5 350.5 L141.5 335.5 L154.5 320.5 L161.5 305.5 L167.5 290.5 L181.5 275.5 L207.5 260.5 L220.5 245.5 L240.5 230.5 L253.5 215.5 L260.5 200.5 L273.5 185.5 L280.5 170.5 L287.5 155.5 L306.5 140.5 L320.5 125.5 L333.5 110.5 L346.5 95.5 L366.5 80.5 M128.5 365.5 L141.5 350.5 L161.5 335.5 L181.5 320.5 L220.5 305.5 L240.5 290.5 L240.5 275.5 L247.5 260.5 L247.5 245.5 L247.5 230.5 L260.5 215.5 L273.5 200.5 L280.5 185.5 L293.5 170.5 L300.5 155.5 L313.5 140.5 L320.5 125.5 L326.5 110.5 L340.5 95.5 L353.5 80.5 M128.5 365.5 L154.5 350.5 L181.5 335.5 L187.5 320.5 L194.5 305.5 L207.5 290.5 L220.5 275.5 L234.5 260.5 L240.5 245.5 L253.5 230.5 L260.5 215.5 L267.5 200.5 L273.5 185.5 L280.5 170.5 L287.5 155.5 L293.5 140.5 L300.5 125.5 L306.5 110.5 L320.5 95.5 L326.5 80.5 M101.5 365.5 L121.5 350.5 L141.5 335.5 L154.5 320.5 L174.5 305.5 L181.5 290.5 L187.5 275.5 L194.5 260.5 L207.5 245.5 L207.5 230.5 L207.5 215.5 L214.5 200.5 L227.5 185.5 L247.5 170.5 L253.5 155.5 L253.5 140.5 L280.5 125.5 L293.5 110.5 L313.5 95.5 L326.5 80.5 M121.5 365.5 L141.5 350.5 L161.5 335.5 L167.5 320.5 L167.5 305.5 L187.5 290.5 L200.5 275.5 L207.5 260.5 L214.5 245.5 L220.5 230.5 L220.5 215.5 L227.5 200.5 L227.5 185.5 L234.5 170.5 L240.5 155.5 L247.5 140.5 L260.5 125.5 L267.5 110.5 L273.5 95.5 L280.5 80.5 M108.5 365.5 L134.5 350.5 L147.5 335.5 L167.5 320.5 L174.5 305.5 L187.5 290.5 L200.5 275.5 L207.5 260.5 L214.5 245.5 L220.5 230.5 L220.5 215.5 L220.5 200.5 L227.5 185.5 L234.5 170.5 L247.5 155.5 L253.5 140.5 L260.5 125.5 L273.5 110.5 L293.5 95.5 L300.5 80.5 M101.5 365.5 L108.5 350.5 L121.5 335.5 L134.5 320.5 L134.5 305.5 L147.5 290.5 L161.5 275.5 L161.5 260.5 L181.5 245.5 L187.5 230.5 L194.5 215.5 L207.5 200.5 L214.5 185.5 L220.5 170.5 L227.5 155.5 L234.5 140.5 L240.5 125.5 L247.5 110.5 L253.5 95.5 L260.5 80.5 M108.5 365.5 L114.5 350.5 L128.5 335.5 L141.5 320.5 L154.5 305.5 L167.5 290.5 L181.5 275.5 L200.5 260.5 L214.5 245.5 L220.5 230.5 L227.5 215.5 L227.5 200.5 L234.5 185.5 L234.5 170.5 L240.5 155.5 L247.5 140.5 L253.5 125.5 L260.5 110.5 L260.5 95.5 L267.5 80.5 M128.5 365.5 L147.5 350.5 L167.5 335.5 L187.5 320.5 L194.5 305.5 L200.5 290.5 L200.5 275.5 L214.5 260.5 L220.5 245.5 L220.5 230.5 L234.5 215.5 L234.5 200.5 L234.5 185.5 L240.5 170.5 L240.5 155.5 L247.5 140.5 L253.5 125.5 L260.5 110.5 L260.5 95.5 L267.5 80.5 M101.5 365.5 L114.5 350.5 L128.5 335.5 L134.5 320.5 L147.5 305.5 L167.5 290.5 L174.5 275.5 L194.5 260.5 L214.5 245.5 L214.5 230.5 L220.5 215.5 L220.5 200.5 L220.5 185.5 L227.5 170.5 L227.5 155.5 L234.5 140.5 L234.5 125.5 L240.5 110.5 L240.5 95.5 L247.5 80.5 M134.5 365.5 L161.5 350.5 L174.5 335.5 L187.5 320.5 L207.5 305.5 L227.5 290.5 L240.5 275.5 L247.5 260.5 L267.5 245.5 L273.5 230.5 L280.5 215.5 L300.5 200.5 L306.5 185.5 L313.5 170.5 L313.5 155.5 L320.5 140.5 L326.5 125.5 L333.5 110.5 L340.5 95.5 L340.5 80.5 M108.5 365.5 L121.5 350.5 L141.5 335.5 L154.5 320.5 L174.5 305.5 L207.5 290.5 L220.5 275.5 L240.5 260.5 L247.5 245.5 L253.5 230.5 L253.5 215.5 L253.5 200.5 L253.5 185.5 L253.5 170.5 L267.5 155.5 L273.5 140.5 L280.5 125.5 L293.5 110.5 L306.5 95.5 L313.5 80.5 M121.5 365.5 L134.5 350.5 L141.5 335.5 L154.5 320.5 L167.5 305.5 L207.5 290.5 L220.5 275.5 L227.5 260.5 L234.5 245.5 L240.5 230.5 L247.5 215.5 L260.5 200.5 L260.5 185.5 L267.5 170.5 L273.5 155.5 L273.5 140.5 L280.5 125.5 L293.5 110.5 L300.5 95.5 L306.5 80.5 M121.5 365.5 L134.5 350.5 L147.5 335.5 L161.5 320.5 L174.5 305.5 L200.5 290.5 L227.5 275.5 L240.5 260.5 L247.5 245.5 L247.5 230.5 L253.5 215.5 L260.5 200.5 L267.5 185.5 L273.5 170.5 L280.5 155.5 L287.5 140.5 L293.5 125.5 L300.5 110.5 L313.5 95.5 L320.5 80.5 M94.5 365.5 L101.5 350.5 L108.5 335.5 L114.5 320.5 L121.5 305.5 L121.5 290.5 L128.5 275.5 L141.5 260.5 L141.5 245.5 L147.5 230.5 L154.5 215.5 L154.5 200.5 L161.5 185.5 L161.5 170.5 L161.5 155.5 L161.5 140.5 L167.5 125.5 L167.5 110.5 L167.5 95.5 L167.5 80.5 M94.5 365.5 L101.5 350.5 L108.5 335.5 L114.5 320.5 L121.5 305.5 L128.5 290.5 L134.5 275.5 L141.5 260.5 L147.5 245.5 L154.5 230.5 L161.5 215.5 L167.5 200.5 L167.5 185.5 L174.5 170.5 L174.5 155.5 L174.5 140.5 L174.5 125.5 L174.5 110.5 L174.5 95.5 L181.5 80.5 M94.5 365.5 L108.5 350.5 L114.5 335.5 L121.5 320.5 L128.5 305.5 L134.5 290.5 L141.5 275.5 L147.5 260.5 L154.5 245.5 L161.5 230.5 L167.5 215.5 L167.5 200.5 L174.5 185.5 L181.5 170.5 L181.5 155.5 L181.5 140.5 L181.5 125.5 L181.5 110.5 L181.5 95.5 L187.5 80.5 M101.5 365.5 L108.5 350.5 L114.5 335.5 L121.5 320.5 L128.5 305.5 L134.5 290.5 L141.5 275.5 L147.5 260.5 L154.5 245.5 L161.5 230.5 L167.5 215.5 L174.5 200.5 L181.5 185.5 L181.5 170.5 L181.5 155.5 L187.5 140.5 L187.5 125.5 L187.5 110.5 L187.5 95.5 L194.5 80.5 M94.5 365.5 L101.5 350.5 L114.5 335.5 L121.5 320.5 L128.5 305.5 L134.5 290.5 L141.5 275.5 L147.5 260.5 L154.5 245.5 L161.5 230.5 L167.5 215.5 L174.5 200.5 L174.5 185.5 L181.5 170.5 L181.5 155.5 L181.5 140.5 L181.5 125.5 L181.5 110.5 L181.5 95.5 L181.5 80.5 M101.5 365.5 L108.5 350.5 L114.5 335.5 L121.5 320.5 L128.5 305.5 L141.5 290.5 L147.5 275.5 L154.5 260.5 L161.5 245.5 L167.5 230.5 L174.5 215.5 L181.5 200.5 L181.5 185.5 L187.5 170.5 L187.5 155.5 L187.5 140.5 L187.5 125.5 L187.5 110.5 L187.5 95.5 L187.5 80.5 M101.5 365.5 L108.5 350.5 L121.5 335.5 L128.5 320.5 L134.5 305.5 L141.5 290.5 L147.5 275.5 L154.5 260.5 L161.5 245.5 L167.5 230.5 L174.5 215.5 L181.5 200.5 L187.5 185.5 L187.5 170.5 L194.5 155.5 L194.5 140.5 L200.5 125.5 L200.5 110.5 L214.5 95.5 L220.5 80.5 M141.5 365.5 L161.5 350.5 L174.5 335.5 L200.5 320.5 L220.5 305.5 L253.5 290.5 L273.5 275.5 L293.5 260.5 L313.5 245.5 L340.5 230.5 L366.5 215.5 L393.5 200.5 L406.5 185.5 L426.5 170.5 L452.5 155.5 L485.5 140.5 L532.5 125.5 L538.5 110.5 L538.5 95.5 L545.5 80.5 M147.5 365.5 L167.5 350.5 L181.5 335.5 L200.5 320.5 L227.5 305.5 L253.5 290.5 L273.5 275.5 L300.5 260.5 L313.5 245.5 L346.5 230.5 L366.5 215.5 L393.5 200.5 L406.5 185.5 L432.5 170.5 L459.5 155.5 L492.5 140.5 L532.5 125.5 L538.5 110.5 L545.5 95.5 L545.5 80.5 M141.5 365.5 L161.5 350.5 L181.5 335.5 L194.5 320.5 L220.5 305.5 L247.5 290.5 L273.5 275.5 L293.5 260.5 L313.5 245.5 L340.5 230.5 L366.5 215.5 L386.5 200.5 L406.5 185.5 L432.5 170.5 L452.5 155.5 L499.5 140.5 L532.5 125.5 L538.5 110.5 L545.5 95.5 L545.5 80.5"/>
<g fill="none" stroke="#000" stroke-width="2">
<path d="M101 365 L114 350 L134 335 L141 320 L154 305 L167 290 L174 275 L181 260 L194 245 L200 230 L220 215 L234 200 L240 185 L247 170 L260 155 L267 140 L287 125 L293 110 L300 95 L313 80"/>
<path d="M101 365 L121 350 L141 335 L147 320 L161 305 L167 290 L174 275 L187 260 L194 245 L220 230 L227 215 L234 200 L247 185 L273 170 L300 155 L306 140 L320 125 L326 110 L333 95 L346 80"/>
<path d="M101 365 L121 350 L141 335 L154 320 L161 305 L174 290 L214 275 L227 260 L234 245 L247 230 L273 215 L300 200 L306 185 L326 170 L333 155 L340 140 L340 125 L346 110 L353 95 L359 80"/>
<path d="M141 365 L161 350 L167 335 L187 320 L207 305 L247 290 L260 275 L287 260 L293 245 L313 230 L320 215 L333 200 L340 185 L340 170 L346 155 L346 140 L353 125 L353 110 L353 95 L353 80"/>
</g>
<path fill="none" stroke="#0000ff" stroke-width="2" d="M108 365 L128 350 L141 335 L141 320 L141 305 L147 290 L161 275 L181 260 L194 245 L247 230 L260 215 L280 200 L300 185 L313 170 L326 155 L340 140 L359 125 L373 110 L393 95 L412 80"/>
</g>
<g stroke="#000" stroke-width="1" fill="none" shape-rendering="crispEdges">
<rect x="65.5" y="65.5" width="550" height="310"/>
<path d="M128.5 375 v-5 M128.5 66 v5 M181.5 375 v-10 M181.5 66 v10 M234.5 375 v-5 M234.5 66 v5 M287.5 375 v-10 M287.5 66 v10 M340.5 375 v-5 M340.5 66 v5 M393.5 375 v-10 M393.5 66 v10 M446.5 375 v-5 M446.5 66 v5 M499.5 375 v-10 M499.5 66 v10 M552.5 375 v-5 M552.5 66 v5 M605.5 375 v-10 M605.5 66 v10 M66 336.5 h5 M615 336.5 h-5 M66 307.5 h5 M615 307.5 h-5 M66 278.5 h5 M615 278.5 h-5 M66 249.5 h5 M615 249.5 h-5 M66 220.5 h10 M615 220.5 h-10 M66 191.5 h5 M615 191.5 h-5 M66 162.5 h5 M615 162.5 h-5 M66 133.5 h5 M615 133.5 h-5 M66 104.5 h5 M615 104.5 h-5 M66 75.5 h10 M615 75.5 h-10"/>
</g>
<g style="filter:grayscale(1)">
<text class="m" transform="translate(348,30) scale(1.143,1)" text-anchor="middle">T0981-D2</text>
<text class="m" transform="translate(333.5,420) scale(1.143,1)" text-anchor="middle">Percent of Residues (CA)</text>
<text class="m" transform="translate(31,233) rotate(-90) scale(1.143,1)" text-anchor="middle">Distance Cutoff, A</text>
<text class="t" transform="translate(64.5,395) scale(1.04,1)" text-anchor="middle">0</text>
<text class="t" transform="translate(180.5,395) scale(1.04,1)" text-anchor="middle">20</text>
<text class="t" transform="translate(286.5,395) scale(1.04,1)" text-anchor="middle">40</text>
<text class="t" transform="translate(392.5,395) scale(1.04,1)" text-anchor="middle">60</text>
<text class="t" transform="translate(498.5,395) scale(1.04,1)" text-anchor="middle">80</text>
<text class="t" transform="translate(609.5,395) scale(1.04,1)" text-anchor="middle">100</text>
<text class="t" transform="translate(56,375.5) rotate(-90) scale(1.04,1)" text-anchor="middle">0</text>
<text class="t" transform="translate(56,220.5) rotate(-90) scale(1.04,1)" text-anchor="middle">5</text>
<text class="t" transform="translate(56,66) rotate(-90) scale(1.04,1)" text-anchor="middle">10</text>
</g>
</svg>
</body></html>
